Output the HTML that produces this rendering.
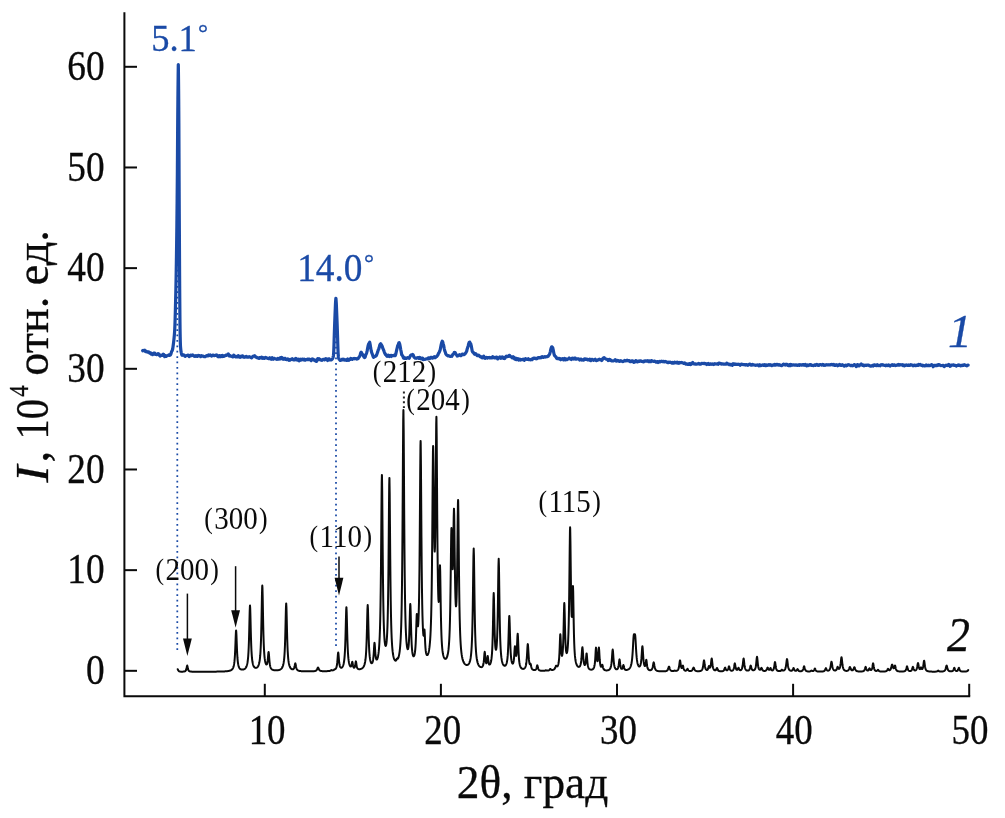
<!DOCTYPE html>
<html lang="ru"><head><meta charset="utf-8"><title>XRD</title>
<style>html,body{margin:0;padding:0;background:#fff;}body{width:1005px;height:818px;overflow:hidden;font-family:"Liberation Serif",serif;}svg{display:block;will-change:transform;}</style></head>
<body>
<svg width="1005" height="818" viewBox="0 0 1005 818">
<rect width="1005" height="818" fill="#ffffff"/>
<g stroke="#0a0a0a" stroke-width="2" fill="none" stroke-linecap="butt">
<path d="M124.4,12.3 V696.2 H970.2"/>
<path d="M124.4,670.82 h12.6"/>
<path d="M124.4,570.15 h12.6"/>
<path d="M124.4,469.48 h12.6"/>
<path d="M124.4,368.81 h12.6"/>
<path d="M124.4,268.14 h12.6"/>
<path d="M124.4,167.47 h12.6"/>
<path d="M124.4,66.80 h12.6"/>
<path d="M264.80,696.2 v-12.4"/>
<path d="M440.90,696.2 v-12.4"/>
<path d="M617.00,696.2 v-12.4"/>
<path d="M793.10,696.2 v-12.4"/>
<path d="M969.20,696.2 v-12.4"/>
</g>
<g stroke="#1a4aa6" stroke-width="1.75" stroke-dasharray="1.75 3.66" fill="none">
<path d="M177.3,258.83 V650.3"/>
<path d="M336.0,325.16 V646.3"/>
</g>
<path d="M403.9,391.5 V408" stroke="#222" stroke-width="2.0" stroke-dasharray="2 2.9" fill="none"/>
<path d="M177.70,669.18 177.95,669.81 178.20,670.28 178.45,670.64 178.70,670.92 178.95,671.12 179.20,671.27 179.45,671.39 179.70,671.48 179.95,671.54 180.20,671.59 180.45,671.62 180.70,671.65 180.95,671.66 181.20,671.67 181.45,671.68 181.70,671.68 181.95,671.67 182.20,671.67 182.45,671.66 182.70,671.65 182.95,671.63 183.20,671.61 183.45,671.59 183.70,671.56 183.95,671.52 184.20,671.48 184.45,671.42 184.70,671.34 184.95,671.24 185.20,671.11 185.45,670.93 185.70,670.67 185.95,670.29 186.20,669.72 186.45,668.86 186.70,667.62 186.95,666.21 187.20,665.50 187.45,666.21 187.70,667.62 187.95,668.86 188.20,669.72 188.45,670.29 188.70,670.66 188.95,670.92 189.20,671.10 189.45,671.23 189.70,671.33 189.95,671.41 190.20,671.46 190.45,671.51 190.70,671.55 190.95,671.58 191.20,671.60 191.45,671.62 191.70,671.64 191.95,671.65 192.20,671.67 192.45,671.68 192.70,671.68 192.95,671.69 193.20,671.70 193.45,671.71 193.70,671.71 193.95,671.71 194.20,671.72 194.45,671.72 194.70,671.73 194.95,671.73 195.20,671.73 195.45,671.73 195.70,671.73 195.95,671.74 196.20,671.74 196.45,671.74 196.70,671.74 196.95,671.74 197.20,671.74 197.45,671.74 197.70,671.74 197.95,671.74 198.20,671.74 198.45,671.74 198.70,671.74 198.95,671.74 199.20,671.74 199.45,671.74 199.70,671.74 199.95,671.74 200.20,671.74 200.45,671.74 200.70,671.74 200.95,671.74 201.20,671.74 201.45,671.74 201.70,671.74 201.95,671.74 202.20,671.74 202.45,671.74 202.70,671.74 202.95,671.74 203.20,671.74 203.45,671.73 203.70,671.73 203.95,671.73 204.20,671.73 204.45,671.73 204.70,671.73 204.95,671.73 205.20,671.73 205.45,671.73 205.70,671.73 205.95,671.72 206.20,671.72 206.45,671.72 206.70,671.72 206.95,671.72 207.20,671.72 207.45,671.72 207.70,671.71 207.95,671.71 208.20,671.71 208.45,671.71 208.70,671.71 208.95,671.71 209.20,671.70 209.45,671.70 209.70,671.70 209.95,671.70 210.20,671.70 210.45,671.70 210.70,671.69 210.95,671.69 211.20,671.69 211.45,671.69 211.70,671.68 211.95,671.68 212.20,671.68 212.45,671.68 212.70,671.68 212.95,671.67 213.20,671.67 213.45,671.67 213.70,671.66 213.95,671.66 214.20,671.66 214.45,671.66 214.70,671.65 214.95,671.65 215.20,671.65 215.45,671.64 215.70,671.64 215.95,671.64 216.20,671.63 216.45,671.63 216.70,671.62 216.95,671.62 217.20,671.62 217.45,671.61 217.70,671.61 217.95,671.60 218.20,671.60 218.45,671.59 218.70,671.59 218.95,671.58 219.20,671.58 219.45,671.57 219.70,671.57 219.95,671.56 220.20,671.55 220.45,671.55 220.70,671.54 220.95,671.53 221.20,671.53 221.45,671.52 221.70,671.51 221.95,671.50 222.20,671.49 222.45,671.48 222.70,671.47 222.95,671.46 223.20,671.45 223.45,671.44 223.70,671.43 223.95,671.42 224.20,671.40 224.45,671.39 224.70,671.38 224.95,671.36 225.20,671.34 225.45,671.33 225.70,671.31 225.95,671.29 226.20,671.27 226.45,671.25 226.70,671.22 226.95,671.20 227.20,671.17 227.45,671.14 227.70,671.11 227.95,671.07 228.20,671.03 228.45,670.99 228.70,670.94 228.95,670.90 229.20,670.84 229.45,670.78 229.70,670.71 229.95,670.64 230.20,670.55 230.45,670.46 230.70,670.35 230.95,670.23 231.20,670.09 231.45,669.93 231.70,669.75 231.95,669.53 232.20,669.28 232.45,668.97 232.70,668.61 232.95,668.16 233.20,667.61 233.45,666.92 233.70,666.05 233.95,664.92 234.20,663.44 234.45,661.46 234.70,658.77 234.95,655.09 235.20,650.12 235.45,643.76 235.70,636.74 235.95,631.43 236.10,630.40 236.20,630.86 236.45,635.40 236.70,642.29 236.95,648.85 237.20,654.08 237.45,657.96 237.70,660.80 237.95,662.87 238.20,664.41 238.45,665.56 238.70,666.45 238.95,667.13 239.20,667.67 239.45,668.10 239.70,668.44 239.95,668.71 240.20,668.93 240.45,669.11 240.70,669.25 240.95,669.37 241.20,669.46 241.45,669.52 241.70,669.57 241.95,669.60 242.20,669.61 242.45,669.61 242.70,669.59 242.95,669.56 243.20,669.52 243.45,669.46 243.70,669.38 243.95,669.28 244.20,669.17 244.45,669.03 244.70,668.87 244.95,668.67 245.20,668.45 245.45,668.18 245.70,667.86 245.95,667.49 246.20,667.04 246.45,666.49 246.70,665.83 246.95,665.02 247.20,664.01 247.45,662.74 247.70,661.11 247.95,659.00 248.20,656.22 248.45,652.51 248.70,647.49 248.95,640.73 249.20,631.90 249.45,621.34 249.70,611.18 249.95,605.67 250.00,605.50 250.20,608.13 250.45,616.97 250.70,627.72 250.95,637.32 251.20,644.85 251.45,650.48 251.70,654.63 251.95,657.71 252.20,660.02 252.45,661.78 252.70,663.14 252.95,664.20 253.20,665.03 253.45,665.70 253.70,666.23 253.95,666.66 254.20,667.00 254.45,667.27 254.70,667.48 254.95,667.64 255.20,667.76 255.45,667.83 255.70,667.87 255.95,667.88 256.20,667.85 256.45,667.78 256.70,667.68 256.95,667.53 257.20,667.35 257.45,667.12 257.70,666.83 257.95,666.47 258.20,666.04 258.45,665.51 258.70,664.86 258.95,664.06 259.20,663.08 259.45,661.85 259.70,660.29 259.95,658.30 260.20,655.72 260.45,652.31 260.70,647.76 260.95,641.62 261.20,633.33 261.45,622.39 261.70,608.97 261.95,595.26 262.20,586.39 262.30,585.50 262.45,587.47 262.70,597.78 262.95,611.73 263.20,624.72 263.45,635.09 263.70,642.87 263.95,648.62 264.20,652.86 264.45,656.03 264.70,658.41 264.95,660.23 265.20,661.61 265.45,662.66 265.70,663.45 265.95,664.00 266.20,664.35 266.45,664.49 266.70,664.41 266.95,664.06 267.20,663.36 267.45,662.19 267.70,660.39 267.95,657.86 268.20,654.83 268.45,652.42 268.60,652.00 268.70,652.29 268.95,654.67 269.20,658.02 269.45,661.03 269.70,663.32 269.95,664.98 270.20,666.18 270.45,667.05 270.70,667.71 270.95,668.21 271.20,668.60 271.45,668.90 271.70,669.15 271.95,669.36 272.20,669.53 272.45,669.67 272.70,669.79 272.95,669.89 273.20,669.98 273.45,670.05 273.70,670.11 273.95,670.17 274.20,670.21 274.45,670.25 274.70,670.28 274.95,670.31 275.20,670.33 275.45,670.34 275.70,670.35 275.95,670.36 276.20,670.36 276.45,670.36 276.70,670.35 276.95,670.33 277.20,670.32 277.45,670.29 277.70,670.26 277.95,670.23 278.20,670.19 278.45,670.14 278.70,670.09 278.95,670.03 279.20,669.95 279.45,669.87 279.70,669.78 279.95,669.67 280.20,669.55 280.45,669.41 280.70,669.25 280.95,669.06 281.20,668.84 281.45,668.59 281.70,668.30 281.95,667.96 282.20,667.55 282.45,667.07 282.70,666.48 282.95,665.77 283.20,664.89 283.45,663.80 283.70,662.42 283.95,660.65 284.20,658.35 284.45,655.30 284.70,651.21 284.95,645.69 285.20,638.27 285.45,628.69 285.70,617.56 285.95,607.60 286.20,603.40 286.45,607.60 286.70,617.56 286.95,628.69 287.20,638.27 287.45,645.69 287.70,651.22 287.95,655.30 288.20,658.35 288.45,660.65 288.70,662.42 288.95,663.80 289.20,664.89 289.45,665.76 289.70,666.47 289.95,667.05 290.20,667.52 290.45,667.92 290.70,668.25 290.95,668.52 291.20,668.75 291.45,668.93 291.70,669.08 291.95,669.20 292.20,669.28 292.45,669.33 292.70,669.33 292.95,669.30 293.20,669.21 293.45,669.04 293.70,668.78 293.95,668.38 294.20,667.77 294.45,666.90 294.70,665.72 294.95,664.39 295.20,663.48 295.30,663.40 295.45,663.64 295.70,664.78 295.95,666.20 296.20,667.41 296.45,668.32 296.70,668.97 296.95,669.44 297.20,669.79 297.45,670.05 297.70,670.25 297.95,670.41 298.20,670.53 298.45,670.63 298.70,670.72 298.95,670.79 299.20,670.85 299.45,670.90 299.70,670.95 299.95,670.99 300.20,671.02 300.45,671.05 300.70,671.08 300.95,671.11 301.20,671.13 301.45,671.15 301.70,671.17 301.95,671.19 302.20,671.20 302.45,671.22 302.70,671.23 302.95,671.24 303.20,671.25 303.45,671.26 303.70,671.27 303.95,671.28 304.20,671.29 304.45,671.30 304.70,671.31 304.95,671.31 305.20,671.32 305.45,671.32 305.70,671.33 305.95,671.33 306.20,671.34 306.45,671.34 306.70,671.34 306.95,671.35 307.20,671.35 307.45,671.35 307.70,671.35 307.95,671.36 308.20,671.36 308.45,671.36 308.70,671.36 308.95,671.36 309.20,671.36 309.45,671.36 309.70,671.36 309.95,671.36 310.20,671.35 310.45,671.35 310.70,671.35 310.95,671.34 311.20,671.34 311.45,671.33 311.70,671.33 311.95,671.32 312.20,671.31 312.45,671.30 312.70,671.29 312.95,671.28 313.20,671.26 313.45,671.24 313.70,671.22 313.95,671.20 314.20,671.17 314.45,671.13 314.70,671.09 314.95,671.04 315.20,670.97 315.45,670.89 315.70,670.79 315.95,670.65 316.20,670.48 316.45,670.25 316.70,669.94 316.95,669.53 317.20,669.00 317.45,668.39 317.70,667.82 317.95,667.51 318.00,667.50 318.20,667.64 318.45,668.14 318.70,668.75 318.95,669.32 319.20,669.77 319.45,670.11 319.70,670.36 319.95,670.55 320.20,670.70 320.45,670.81 320.70,670.89 320.95,670.96 321.20,671.01 321.45,671.05 321.70,671.09 321.95,671.11 322.20,671.13 322.45,671.15 322.70,671.17 322.95,671.18 323.20,671.18 323.45,671.19 323.70,671.20 323.95,671.20 324.20,671.20 324.45,671.20 324.70,671.20 324.95,671.20 325.20,671.20 325.45,671.19 325.70,671.19 325.95,671.18 326.20,671.17 326.45,671.17 326.70,671.16 326.95,671.15 327.20,671.14 327.45,671.12 327.70,671.11 327.95,671.09 328.20,671.08 328.45,671.06 328.70,671.04 328.95,671.01 329.20,670.98 329.45,670.94 329.70,670.90 329.95,670.84 330.20,670.76 330.45,670.66 330.70,670.52 330.95,670.34 331.20,670.17 331.40,670.10 331.45,670.09 331.70,670.15 331.95,670.25 332.20,670.34 332.45,670.38 332.70,670.38 332.95,670.34 333.20,670.27 333.45,670.17 333.70,670.03 333.95,669.84 334.20,669.62 334.45,669.43 334.50,669.40 334.70,669.32 334.95,669.27 335.20,669.18 335.45,669.02 335.70,668.76 335.95,668.39 336.20,667.87 336.45,667.17 336.70,666.21 336.95,664.85 337.20,662.95 337.45,660.34 337.70,657.06 337.95,653.86 338.20,652.40 338.45,653.75 338.70,656.85 338.95,660.02 339.20,662.51 339.45,664.30 339.70,665.53 339.95,666.38 340.20,666.95 340.45,667.33 340.70,667.57 340.95,667.70 341.20,667.74 341.45,667.71 341.70,667.60 341.95,667.43 342.20,667.19 342.45,666.87 342.70,666.46 342.95,665.94 343.20,665.28 343.45,664.46 343.70,663.42 343.95,662.08 344.20,660.36 344.45,658.09 344.70,655.08 344.95,651.03 345.20,645.54 345.45,638.21 345.70,628.86 345.95,618.38 346.20,609.77 346.40,607.20 346.45,607.36 346.70,612.69 346.95,622.54 347.20,632.78 347.45,641.33 347.70,647.86 347.95,652.71 348.20,656.29 348.45,658.95 348.70,660.96 348.95,662.48 349.20,663.66 349.45,664.57 349.70,665.27 349.95,665.80 350.20,666.18 350.45,666.43 350.70,666.53 350.95,666.46 351.20,666.16 351.45,665.55 351.70,664.50 351.95,663.06 352.20,661.90 352.30,661.80 352.45,662.15 352.70,663.63 352.95,665.19 353.20,666.33 353.45,667.05 353.70,667.47 353.95,667.68 354.20,667.70 354.45,667.54 354.70,667.16 354.95,666.47 355.20,665.34 355.45,663.71 355.70,661.98 355.90,661.40 355.95,661.45 356.20,662.71 356.45,664.60 356.70,666.14 356.95,667.19 357.20,667.88 357.45,668.33 357.70,668.64 357.95,668.85 358.20,668.99 358.45,669.09 358.70,669.15 358.95,669.19 359.20,669.20 359.45,669.20 359.70,669.19 359.95,669.16 360.20,669.11 360.45,669.06 360.70,668.99 360.95,668.91 361.20,668.81 361.45,668.70 361.70,668.58 361.95,668.43 362.20,668.26 362.45,668.07 362.70,667.85 362.95,667.59 363.20,667.29 363.45,666.94 363.70,666.53 363.95,666.05 364.20,665.46 364.45,664.76 364.70,663.89 364.95,662.82 365.20,661.48 365.45,659.76 365.70,657.54 365.95,654.61 366.20,650.68 366.45,645.40 366.70,638.31 366.95,629.16 367.20,618.56 367.45,609.04 367.70,605.00 367.95,608.91 368.20,618.29 368.45,628.76 368.70,637.77 368.95,644.71 369.20,649.85 369.45,653.61 369.70,656.38 369.95,658.43 370.20,659.95 370.45,661.08 370.70,661.92 370.95,662.52 371.20,662.93 371.45,663.16 371.70,663.24 371.95,663.16 372.20,662.91 372.45,662.46 372.70,661.74 372.95,660.68 373.20,659.13 373.45,656.91 373.70,653.79 373.95,649.73 374.20,645.46 374.45,642.90 374.50,642.80 374.70,643.84 374.95,647.40 375.20,651.37 375.45,654.55 375.70,656.77 375.95,658.20 376.20,659.06 376.45,659.49 376.70,659.61 376.95,659.47 377.20,659.10 377.45,658.51 377.70,657.71 377.95,656.66 378.20,655.34 378.45,653.69 378.70,651.64 378.95,649.07 379.20,645.84 379.45,641.73 379.70,636.43 379.95,629.50 380.20,620.31 380.45,607.97 380.70,591.30 380.95,569.04 381.20,540.69 381.45,508.94 381.70,482.80 381.90,474.90 381.95,475.36 382.20,491.26 382.45,520.79 382.70,551.45 382.95,577.01 383.20,596.47 383.45,610.78 383.70,621.24 383.95,628.88 384.20,634.50 384.45,638.61 384.70,641.59 384.95,643.69 385.20,645.06 385.45,645.80 385.70,645.98 385.95,645.60 386.20,644.64 386.45,643.03 386.70,640.64 386.95,637.30 387.20,632.71 387.45,626.46 387.70,617.94 387.95,606.29 388.20,590.36 388.45,568.90 388.70,541.47 388.95,510.67 389.20,485.37 389.40,477.89 389.45,478.42 389.70,494.37 389.95,523.70 390.20,554.15 390.45,579.61 390.70,599.10 390.95,613.58 391.20,624.30 391.45,632.32 391.70,638.39 391.95,643.06 392.20,646.71 392.45,649.59 392.70,651.90 392.95,653.76 393.20,655.27 393.45,656.51 393.70,657.52 393.95,658.35 394.20,659.03 394.45,659.57 394.70,659.99 394.95,660.31 395.20,660.53 395.45,660.65 395.70,660.66 395.95,660.54 396.20,660.27 396.45,659.80 396.70,659.17 396.95,658.65 397.00,658.59 397.20,658.53 397.45,658.66 397.70,658.68 397.95,658.48 398.20,658.06 398.45,657.44 398.70,656.63 398.95,655.62 399.20,654.37 399.45,652.85 399.70,651.01 399.95,648.75 400.20,645.98 400.45,642.54 400.70,638.23 400.95,632.75 401.20,625.70 401.45,616.47 401.70,604.23 401.95,587.77 402.20,565.52 402.45,535.77 402.70,497.88 402.95,455.44 403.20,420.53 403.40,410.08 403.45,410.74 403.70,432.28 403.95,472.11 404.20,513.49 404.45,548.07 404.70,574.48 404.95,594.03 405.20,608.45 405.45,619.16 405.70,627.19 405.95,633.29 406.20,637.95 406.45,641.53 406.70,644.25 406.95,646.29 407.20,647.75 407.45,648.69 407.70,649.14 407.95,649.07 408.20,648.42 408.45,647.07 408.70,644.83 408.95,641.40 409.20,636.37 409.45,629.35 409.70,620.36 409.95,610.84 410.20,604.60 410.30,604.03 410.45,605.60 410.70,613.30 410.95,623.37 411.20,632.47 411.45,639.55 411.70,644.74 411.95,648.48 412.20,651.16 412.45,653.08 412.70,654.43 412.95,655.36 413.20,655.94 413.45,656.24 413.70,656.29 413.95,656.08 414.20,655.62 414.45,654.87 414.70,653.77 414.95,652.22 415.20,650.08 415.45,647.11 415.70,642.99 415.95,637.32 416.20,629.89 416.45,621.52 416.70,615.12 416.80,613.97 416.95,614.09 417.20,617.86 417.45,622.60 417.70,625.67 417.95,626.32 418.20,624.58 418.30,623.23 418.45,620.47 418.70,613.74 418.95,603.74 419.20,589.50 419.45,569.70 419.70,542.96 419.95,509.23 420.20,472.88 420.45,445.99 420.60,440.90 420.70,443.27 420.95,466.55 421.20,502.49 421.45,537.60 421.70,566.17 421.95,587.70 422.20,603.50 422.45,615.01 422.70,623.34 422.95,629.26 423.20,633.23 423.45,635.43 423.70,635.82 423.95,634.26 424.20,631.27 424.45,629.59 424.50,629.76 424.70,632.46 424.95,638.33 425.20,643.78 425.45,647.74 425.70,650.43 425.95,652.24 426.20,653.46 426.45,654.27 426.70,654.78 426.95,655.05 427.20,655.12 427.45,655.02 427.70,654.76 427.95,654.33 428.20,653.73 428.45,652.95 428.70,651.96 428.95,650.74 429.20,649.24 429.45,647.40 429.70,645.15 429.95,642.42 430.00,641.81 430.20,639.09 430.45,634.96 430.70,629.75 430.95,623.08 431.20,614.43 431.45,603.07 431.70,588.02 431.95,568.07 432.20,542.12 432.45,510.36 432.70,476.84 432.95,451.76 433.10,445.94 433.20,446.81 433.45,463.29 433.70,490.36 433.95,516.47 434.20,536.00 434.45,547.65 434.70,551.60 434.95,547.98 435.20,536.40 435.45,516.09 435.70,487.02 435.95,452.74 436.20,424.33 436.40,416.71 436.45,417.66 436.70,438.40 436.95,474.98 437.20,512.45 437.45,543.33 437.70,566.36 437.95,582.58 438.20,593.33 438.40,598.69 438.45,599.62 438.70,601.89 438.95,600.08 439.20,593.82 439.45,583.31 439.70,571.35 439.95,565.19 440.00,565.38 440.20,571.37 440.45,586.83 440.70,603.65 440.95,617.51 441.20,627.84 441.45,635.34 441.70,640.83 441.95,644.92 442.20,648.02 442.45,650.42 442.70,652.30 442.95,653.80 443.20,655.00 443.45,655.98 443.70,656.76 443.95,657.39 444.20,657.89 444.45,658.27 444.70,658.56 444.95,658.75 445.20,658.86 445.45,658.88 445.70,658.83 445.95,658.68 446.20,658.45 446.45,658.13 446.70,657.70 446.95,657.15 447.20,656.47 447.45,655.63 447.70,654.60 447.95,653.34 448.20,651.80 448.45,649.89 448.70,647.51 448.95,644.53 449.20,640.74 449.45,635.84 449.70,629.44 449.95,620.94 450.20,609.59 450.45,594.57 450.70,575.52 450.95,554.01 451.20,535.53 451.40,528.38 451.45,528.04 451.70,534.21 451.95,547.74 452.20,560.52 452.45,568.13 452.70,569.22 452.95,563.56 453.20,551.42 453.45,534.41 453.70,517.36 453.95,508.71 454.00,508.69 454.20,514.74 454.45,532.69 454.70,554.27 454.95,573.37 455.20,587.88 455.45,597.81 455.70,603.79 455.95,606.33 456.20,605.67 456.45,601.72 456.70,594.06 456.95,581.97 457.20,564.78 457.45,542.81 457.70,519.38 457.95,502.62 458.10,499.89 458.20,501.85 458.45,518.26 458.70,543.49 458.95,568.69 459.20,589.73 459.45,606.03 459.70,618.35 459.95,627.64 460.20,634.71 460.45,640.17 460.70,644.45 460.95,647.86 461.20,650.61 461.45,652.85 461.70,654.71 461.95,656.26 462.20,657.57 462.45,658.68 462.70,659.63 462.95,660.44 463.20,661.15 463.45,661.76 463.70,662.30 463.95,662.76 464.20,663.17 464.45,663.52 464.70,663.83 464.95,664.09 465.20,664.32 465.45,664.51 465.70,664.66 465.95,664.79 466.20,664.89 466.45,664.95 466.70,664.98 466.95,664.99 467.20,664.96 467.45,664.90 467.70,664.80 467.95,664.66 468.20,664.48 468.45,664.25 468.70,663.95 468.95,663.60 469.20,663.16 469.45,662.62 469.70,661.97 469.95,661.17 470.20,660.19 470.45,658.98 470.70,657.47 470.95,655.58 471.20,653.18 471.45,650.07 471.70,646.02 471.95,640.63 472.20,633.40 472.45,623.60 472.70,610.43 472.95,593.41 473.20,573.65 473.45,555.94 473.70,548.50 473.95,555.99 474.20,573.76 474.45,593.59 474.70,610.67 474.95,623.90 475.20,633.76 475.45,641.05 475.70,646.50 475.95,650.62 476.20,653.79 476.45,656.26 476.70,658.22 476.95,659.79 477.20,661.07 477.45,662.12 477.70,662.99 477.95,663.72 478.20,664.33 478.45,664.85 478.70,665.30 478.95,665.67 479.20,665.99 479.45,666.26 479.70,666.49 479.95,666.69 480.20,666.84 480.45,666.97 480.70,667.06 480.95,667.12 481.20,667.14 481.45,667.13 481.70,667.08 481.95,666.97 482.20,666.81 482.45,666.56 482.70,666.19 482.95,665.67 483.20,664.91 483.45,663.81 483.70,662.20 483.95,659.86 484.20,656.71 484.45,653.41 484.70,651.80 484.95,653.22 485.20,656.32 485.45,659.23 485.70,661.29 485.95,662.54 486.20,663.15 486.45,663.20 486.70,662.68 486.95,661.50 487.20,659.53 487.45,657.18 487.70,656.00 487.95,657.25 488.20,659.69 488.45,661.77 488.70,663.15 488.95,663.97 489.20,664.40 489.45,664.57 489.70,664.53 489.95,664.32 490.20,663.96 490.45,663.43 490.70,662.71 490.95,661.76 491.20,660.53 491.45,658.90 491.70,656.75 491.95,653.84 492.20,649.85 492.45,644.29 492.70,636.49 492.95,625.79 493.20,612.34 493.45,599.17 493.70,593.10 493.95,598.50 494.20,610.97 494.45,623.69 494.70,633.60 494.95,640.51 495.20,645.06 495.45,647.88 495.70,649.38 495.95,649.82 496.20,649.32 496.45,647.85 496.70,645.29 496.95,641.37 497.20,635.65 497.45,627.49 497.70,616.09 497.95,600.85 498.20,582.60 498.45,565.80 498.70,558.70 498.95,566.18 499.20,583.39 499.45,602.06 499.70,617.75 499.95,629.66 500.20,638.41 500.45,644.81 500.70,649.56 500.95,653.12 501.20,655.85 501.45,657.96 501.70,659.62 501.95,660.95 502.20,662.02 502.45,662.88 502.70,663.58 502.95,664.15 503.20,664.61 503.45,664.99 503.70,665.28 503.95,665.50 504.20,665.65 504.45,665.75 504.70,665.78 504.95,665.75 505.20,665.66 505.45,665.49 505.70,665.23 505.95,664.88 506.20,664.40 506.45,663.76 506.70,662.92 506.95,661.82 507.20,660.34 507.45,658.37 507.70,655.68 507.95,651.99 508.20,646.92 508.45,640.08 508.70,631.49 508.95,622.47 509.20,616.51 509.30,615.90 509.45,617.23 509.70,624.15 509.95,633.28 510.20,641.54 510.45,647.98 510.70,652.71 510.95,656.12 511.20,658.59 511.45,660.38 511.70,661.66 511.95,662.57 512.20,663.18 512.45,663.53 512.70,663.64 512.95,663.50 513.20,663.06 513.45,662.25 513.70,660.92 513.95,658.85 514.20,655.79 514.45,651.75 514.70,647.78 514.90,646.30 514.95,646.31 515.20,648.35 515.45,651.77 515.70,654.49 515.95,655.87 516.20,655.92 516.45,654.66 516.70,651.97 516.95,647.65 517.20,641.87 517.45,636.13 517.70,633.70 517.95,636.69 518.20,643.03 518.45,649.49 518.70,654.63 518.95,658.38 519.20,661.05 519.45,662.98 519.70,664.39 519.95,665.44 520.20,666.24 520.45,666.85 520.70,667.34 520.95,667.72 521.20,668.02 521.45,668.27 521.70,668.46 521.95,668.61 522.20,668.72 522.45,668.81 522.70,668.86 522.95,668.89 523.20,668.89 523.45,668.86 523.70,668.80 523.95,668.70 524.20,668.56 524.45,668.38 524.70,668.14 524.95,667.81 525.20,667.39 525.45,666.84 525.70,666.11 525.95,665.13 526.20,663.80 526.45,661.97 526.70,659.46 526.95,656.08 527.20,651.83 527.45,647.37 527.70,644.41 527.80,644.10 527.95,644.74 528.20,648.12 528.45,652.58 528.70,656.59 528.95,659.66 529.20,661.82 529.45,663.25 529.70,664.05 529.95,664.30 530.20,664.06 530.45,663.72 530.60,663.80 530.70,664.05 530.95,665.21 531.20,666.50 531.45,667.50 531.70,668.21 531.95,668.71 532.20,669.08 532.45,669.35 532.70,669.55 532.95,669.71 533.20,669.83 533.45,669.92 533.70,669.99 533.95,670.04 534.20,670.07 534.45,670.08 534.70,670.06 534.95,670.02 535.20,669.94 535.45,669.82 535.70,669.62 535.95,669.33 536.20,668.89 536.45,668.24 536.70,667.31 536.95,666.20 537.20,665.38 537.30,665.30 537.45,665.51 537.70,666.48 537.95,667.61 538.20,668.52 538.45,669.16 538.70,669.60 538.95,669.91 539.20,670.13 539.45,670.30 539.70,670.42 539.95,670.51 540.20,670.58 540.45,670.64 540.70,670.68 540.95,670.72 541.20,670.75 541.45,670.77 541.70,670.79 541.95,670.81 542.20,670.82 542.45,670.83 542.70,670.83 542.95,670.83 543.20,670.83 543.45,670.82 543.70,670.81 543.95,670.80 544.20,670.77 544.45,670.74 544.70,670.69 544.95,670.62 545.20,670.52 545.45,670.40 545.70,670.31 545.80,670.30 545.95,670.31 546.20,670.39 546.45,670.48 546.70,670.55 546.95,670.59 547.20,670.61 547.45,670.61 547.70,670.59 547.95,670.57 548.20,670.52 548.45,670.47 548.70,670.39 548.95,670.27 549.20,670.12 549.45,669.89 549.70,669.58 549.95,669.22 550.20,668.94 550.30,668.90 550.45,668.94 550.70,669.20 550.95,669.50 551.20,669.72 551.45,669.87 551.70,669.95 551.95,669.99 552.20,669.99 552.45,669.97 552.70,669.93 552.95,669.88 553.20,669.80 553.45,669.70 553.70,669.58 553.95,669.43 554.20,669.25 554.45,669.01 554.70,668.71 554.95,668.32 555.20,667.81 555.45,667.18 555.70,666.48 555.95,665.89 556.10,665.70 556.20,665.66 556.45,665.81 556.70,666.10 556.95,666.33 557.20,666.39 557.45,666.27 557.70,665.97 557.95,665.47 558.20,664.73 558.45,663.70 558.70,662.26 558.95,660.22 559.20,657.29 559.45,653.06 559.70,647.19 559.95,640.20 560.20,634.88 560.30,634.20 560.45,635.13 560.70,640.33 560.95,646.40 561.20,651.02 561.45,653.92 561.70,655.44 561.95,655.88 562.20,655.42 562.45,654.05 562.70,651.66 562.95,647.95 563.20,642.45 563.45,634.58 563.70,624.07 563.95,612.29 564.20,604.01 564.30,603.10 564.45,604.85 564.70,614.00 564.95,625.42 565.20,635.07 565.45,642.07 565.70,646.82 565.95,649.92 566.20,651.81 566.45,652.81 566.70,653.08 566.95,652.71 567.20,651.73 567.45,650.08 567.70,647.65 567.95,644.23 568.20,639.51 568.45,633.01 568.70,624.05 568.95,611.67 569.20,594.87 569.45,573.28 569.70,549.40 569.95,531.11 570.10,527.30 570.20,528.58 570.45,543.06 570.70,565.12 570.95,585.68 571.20,601.14 571.45,611.20 571.70,616.38 571.95,616.99 572.20,612.87 572.45,603.98 572.70,592.56 572.95,586.07 573.00,586.20 573.20,592.11 573.45,607.10 573.70,622.39 573.95,634.24 574.20,642.66 574.45,648.57 574.70,652.80 574.95,655.90 575.20,658.23 575.45,660.02 575.70,661.42 575.95,662.54 576.20,663.44 576.45,664.18 576.70,664.79 576.95,665.30 577.20,665.71 577.45,666.06 577.70,666.33 577.95,666.55 578.20,666.72 578.45,666.83 578.70,666.89 578.95,666.89 579.20,666.84 579.45,666.70 579.70,666.49 579.95,666.16 580.20,665.69 580.45,665.02 580.70,664.09 580.95,662.79 581.20,660.97 581.45,658.46 581.70,655.17 581.95,651.38 582.20,648.17 582.40,647.20 582.45,647.26 582.70,649.27 582.95,652.89 583.20,656.53 583.45,659.47 583.70,661.62 583.95,663.12 584.20,664.11 584.45,664.71 584.70,664.97 584.95,664.90 585.20,664.45 585.45,663.53 585.70,661.97 585.95,659.59 586.20,656.52 586.45,653.89 586.60,653.40 586.70,653.71 586.95,656.28 587.20,659.67 587.45,662.53 587.70,664.58 587.95,666.00 588.20,666.99 588.45,667.70 588.70,668.21 588.95,668.60 589.20,668.89 589.45,669.11 589.70,669.28 589.95,669.41 590.20,669.51 590.45,669.58 590.70,669.63 590.95,669.66 591.20,669.67 591.45,669.66 591.70,669.63 591.95,669.57 592.20,669.50 592.45,669.39 592.70,669.26 592.95,669.08 593.20,668.84 593.45,668.53 593.70,668.13 593.95,667.59 594.20,666.86 594.45,665.85 594.70,664.42 594.95,662.35 595.20,659.36 595.45,655.28 595.70,650.67 595.95,647.73 596.00,647.60 596.20,648.75 596.45,652.55 596.70,656.44 596.95,659.18 597.20,660.71 597.45,661.20 597.70,660.71 597.95,659.18 598.20,656.44 598.45,652.56 598.70,648.76 598.90,647.60 598.95,647.73 599.20,650.62 599.45,655.18 599.70,659.20 599.95,662.11 600.20,664.09 600.45,665.39 600.70,666.21 600.95,666.67 601.20,666.81 601.45,666.62 601.70,666.10 601.95,665.35 602.20,664.81 602.30,664.80 602.45,665.08 602.70,666.07 602.95,667.19 603.20,668.09 603.45,668.74 603.70,669.19 603.95,669.52 604.20,669.76 604.45,669.93 604.70,670.07 604.95,670.17 605.20,670.25 605.45,670.31 605.70,670.35 605.95,670.38 606.20,670.40 606.45,670.41 606.70,670.41 606.95,670.40 607.20,670.38 607.45,670.35 607.70,670.30 607.95,670.25 608.20,670.18 608.45,670.09 608.70,669.98 608.95,669.85 609.20,669.69 609.45,669.48 609.70,669.23 609.95,668.91 610.20,668.51 610.45,667.98 610.70,667.29 610.95,666.37 611.20,665.13 611.45,663.43 611.70,661.10 611.95,658.04 612.20,654.40 612.45,651.04 612.70,649.60 612.95,651.03 613.20,654.36 613.45,657.99 613.70,661.03 613.95,663.34 614.20,665.02 614.45,666.24 614.70,667.13 614.95,667.79 615.20,668.28 615.45,668.64 615.70,668.91 615.95,669.11 616.20,669.24 616.45,669.31 616.70,669.33 616.95,669.29 617.20,669.18 617.45,669.00 617.70,668.71 617.95,668.26 618.20,667.60 618.45,666.61 618.70,665.15 618.95,663.13 619.20,660.85 619.45,659.45 619.50,659.40 619.70,660.09 619.95,662.20 620.20,664.40 620.45,666.07 620.70,667.22 620.95,667.97 621.20,668.46 621.45,668.74 621.70,668.87 621.95,668.84 622.20,668.66 622.45,668.25 622.70,667.54 622.95,666.49 623.20,665.37 623.40,665.00 623.45,665.03 623.70,665.87 623.95,667.11 624.20,668.11 624.45,668.79 624.70,669.24 624.95,669.52 625.20,669.71 625.45,669.83 625.70,669.90 625.95,669.94 626.20,669.96 626.45,669.95 626.70,669.93 626.95,669.89 627.20,669.83 627.45,669.76 627.70,669.67 627.95,669.57 628.20,669.45 628.45,669.31 628.70,669.14 628.95,668.95 629.20,668.73 629.45,668.47 629.70,668.17 629.95,667.81 630.20,667.39 630.45,666.88 630.70,666.27 630.95,665.53 631.20,664.63 631.45,663.50 631.70,662.10 631.95,660.32 632.20,658.06 632.45,655.18 632.70,651.60 632.95,647.32 633.20,642.65 633.45,638.35 633.70,635.40 633.95,634.23 634.20,634.23 634.45,634.39 634.70,634.24 634.95,634.24 635.20,635.40 635.45,638.31 635.70,642.56 635.95,647.17 636.20,651.38 636.45,654.90 636.70,657.70 636.95,659.89 637.20,661.59 637.45,662.92 637.70,663.95 637.95,664.74 638.20,665.36 638.45,665.82 638.70,666.16 638.95,666.38 639.20,666.48 639.45,666.48 639.70,666.36 639.95,666.10 640.20,665.67 640.45,665.02 640.70,664.08 640.95,662.73 641.20,660.81 641.45,658.16 641.70,654.67 641.95,650.63 642.20,647.22 642.40,646.20 642.45,646.27 642.70,648.46 642.95,652.39 643.20,656.35 643.45,659.56 643.70,661.93 643.95,663.61 644.20,664.76 644.45,665.51 644.70,665.92 644.95,665.99 645.20,665.69 645.45,664.91 645.70,663.49 645.95,661.51 646.20,659.93 646.30,659.80 646.45,660.33 646.70,662.48 646.95,664.76 647.20,666.45 647.45,667.60 647.70,668.38 647.95,668.91 648.20,669.29 648.45,669.56 648.70,669.77 648.95,669.92 649.20,670.03 649.45,670.11 649.70,670.16 649.95,670.19 650.20,670.19 650.45,670.17 650.70,670.12 650.95,670.03 651.20,669.91 651.45,669.73 651.70,669.48 651.95,669.14 652.20,668.65 652.45,667.98 652.70,667.05 652.95,665.81 653.20,664.33 653.45,662.97 653.70,662.40 653.95,663.01 654.20,664.40 654.45,665.92 654.70,667.19 654.95,668.16 655.20,668.88 655.45,669.40 655.70,669.79 655.95,670.09 656.20,670.31 656.45,670.49 656.70,670.64 656.95,670.75 657.20,670.84 657.45,670.92 657.70,670.99 657.95,671.04 658.20,671.09 658.45,671.13 658.70,671.17 658.95,671.20 659.20,671.23 659.45,671.25 659.70,671.27 659.95,671.29 660.20,671.31 660.45,671.32 660.70,671.33 660.95,671.34 661.20,671.35 661.45,671.36 661.70,671.36 661.95,671.37 662.20,671.37 662.45,671.37 662.70,671.37 662.95,671.37 663.20,671.37 663.45,671.36 663.70,671.36 663.95,671.35 664.20,671.34 664.45,671.32 664.70,671.30 664.95,671.28 665.20,671.25 665.45,671.22 665.70,671.17 665.95,671.12 666.20,671.05 666.45,670.96 666.70,670.84 666.95,670.70 667.20,670.50 667.45,670.23 667.70,669.86 667.95,669.36 668.20,668.69 668.45,667.87 668.70,667.06 668.95,666.61 669.00,666.60 669.20,666.81 669.45,667.52 669.70,668.36 669.95,669.09 670.20,669.65 670.45,670.06 670.70,670.36 670.95,670.58 671.20,670.73 671.45,670.85 671.70,670.93 671.95,670.99 672.20,671.03 672.45,671.06 672.70,671.06 672.95,671.05 673.20,671.02 673.45,670.97 673.70,670.88 673.95,670.78 674.20,670.67 674.45,670.60 674.50,670.60 674.70,670.62 674.95,670.69 675.20,670.78 675.45,670.84 675.70,670.87 675.95,670.88 676.20,670.86 676.45,670.82 676.70,670.75 676.95,670.66 677.20,670.53 677.45,670.36 677.70,670.14 677.95,669.85 678.20,669.45 678.45,668.91 678.70,668.14 678.95,667.07 679.20,665.58 679.45,663.66 679.70,661.64 679.95,660.45 680.00,660.40 680.20,660.92 680.45,662.65 680.70,664.58 680.95,666.12 681.20,667.17 681.45,667.81 681.70,668.09 681.95,668.03 682.20,667.60 682.45,666.78 682.70,665.87 682.90,665.60 682.95,665.65 683.20,666.52 683.45,667.76 683.70,668.77 683.95,669.47 684.20,669.93 684.45,670.23 684.70,670.44 684.95,670.57 685.20,670.65 685.45,670.69 685.70,670.69 685.95,670.64 686.20,670.53 686.45,670.34 686.70,670.04 686.95,669.60 687.20,669.11 687.45,668.81 687.50,668.80 687.70,668.97 687.95,669.45 688.20,669.95 688.45,670.34 688.70,670.60 688.95,670.78 689.20,670.90 689.45,670.97 689.70,671.02 689.95,671.04 690.20,671.05 690.45,671.03 690.70,671.00 690.95,670.95 691.20,670.88 691.45,670.77 691.70,670.63 691.95,670.43 692.20,670.16 692.45,669.80 692.70,669.33 692.95,668.74 693.20,668.13 693.45,667.68 693.60,667.60 693.70,667.64 693.95,668.02 694.20,668.62 694.45,669.23 694.70,669.73 694.95,670.12 695.20,670.41 695.45,670.62 695.70,670.79 695.95,670.91 696.20,671.00 696.45,671.07 696.70,671.12 696.95,671.16 697.20,671.19 697.45,671.21 697.70,671.22 697.95,671.23 698.20,671.23 698.45,671.23 698.70,671.22 698.95,671.20 699.20,671.18 699.45,671.15 699.70,671.11 699.95,671.06 700.20,671.01 700.45,670.93 700.70,670.85 700.95,670.74 701.20,670.60 701.45,670.42 701.70,670.19 701.95,669.89 702.20,669.49 702.45,668.93 702.70,668.17 702.95,667.08 703.20,665.59 703.45,663.65 703.70,661.62 703.95,660.44 704.00,660.40 704.20,660.96 704.45,662.75 704.70,664.76 704.95,666.41 705.20,667.60 705.45,668.44 705.70,669.02 705.95,669.41 706.20,669.68 706.45,669.85 706.70,669.95 706.95,669.97 707.20,669.91 707.45,669.77 707.70,669.52 707.95,669.10 708.20,668.45 708.45,667.52 708.70,666.52 708.90,666.10 708.95,666.09 709.20,666.53 709.45,667.22 709.70,667.65 709.95,667.70 710.20,667.39 710.45,666.69 710.70,665.54 710.95,663.83 711.20,661.62 711.45,659.45 711.70,658.50 711.95,659.54 712.20,661.81 712.45,664.12 712.70,665.96 712.95,667.30 713.20,668.24 713.45,668.91 713.70,669.40 713.95,669.74 714.20,669.99 714.45,670.17 714.70,670.29 714.95,670.35 715.20,670.36 715.45,670.31 715.70,670.18 715.95,669.94 716.20,669.56 716.45,669.02 716.70,668.38 716.95,668.01 717.00,668.00 717.20,668.23 717.45,668.87 717.70,669.54 717.95,670.06 718.20,670.42 718.45,670.67 718.70,670.85 718.95,670.98 719.20,671.07 719.45,671.14 719.70,671.19 719.95,671.23 720.20,671.25 720.45,671.27 720.70,671.29 720.95,671.29 721.20,671.29 721.45,671.29 721.70,671.27 721.95,671.25 722.20,671.22 722.45,671.18 722.70,671.12 722.95,671.04 723.20,670.94 723.45,670.79 723.70,670.58 723.95,670.27 724.20,669.83 724.45,669.20 724.70,668.42 724.95,667.75 725.10,667.60 725.20,667.65 725.45,668.20 725.70,668.94 725.95,669.55 726.20,669.96 726.45,670.21 726.70,670.34 726.95,670.37 727.20,670.32 727.45,670.17 727.70,669.91 727.95,669.49 728.20,668.86 728.45,667.96 728.70,666.94 728.95,666.32 729.00,666.30 729.20,666.62 729.45,667.57 729.70,668.56 729.95,669.32 730.20,669.84 730.45,670.19 730.70,670.42 730.95,670.56 731.20,670.66 731.45,670.70 731.70,670.71 731.95,670.69 732.20,670.63 732.45,670.53 732.70,670.38 732.95,670.17 733.20,669.85 733.45,669.40 733.70,668.73 733.95,667.75 734.20,666.39 734.45,664.75 734.70,663.53 734.80,663.40 734.95,663.67 735.20,665.03 735.45,666.61 735.70,667.85 735.95,668.71 736.20,669.27 736.45,669.62 736.70,669.82 736.95,669.89 737.20,669.84 737.45,669.66 737.70,669.32 737.95,668.80 738.20,668.19 738.45,667.81 738.50,667.80 738.70,668.00 738.95,668.59 739.20,669.20 739.45,669.65 739.70,669.94 739.95,670.11 740.20,670.19 740.45,670.19 740.70,670.14 740.95,670.02 741.20,669.84 741.45,669.57 741.70,669.19 741.95,668.65 742.20,667.89 742.45,666.81 742.70,665.28 742.95,663.22 743.20,660.81 743.45,658.88 743.60,658.50 743.70,658.68 743.95,660.36 744.20,662.77 744.45,664.94 744.70,666.57 744.95,667.74 745.20,668.57 745.45,669.16 745.70,669.59 745.95,669.90 746.20,670.14 746.45,670.31 746.70,670.44 746.95,670.53 747.20,670.58 747.45,670.62 747.70,670.62 747.95,670.60 748.20,670.55 748.45,670.47 748.70,670.33 748.95,670.14 749.20,669.86 749.45,669.45 749.70,668.87 749.95,668.07 750.20,667.05 750.45,666.05 750.70,665.60 750.95,666.03 751.20,667.02 751.45,668.02 751.70,668.81 751.95,669.37 752.20,669.75 752.45,670.00 752.70,670.17 752.95,670.27 753.20,670.31 753.45,670.31 753.70,670.27 753.95,670.18 754.20,670.05 754.45,669.86 754.70,669.59 754.95,669.22 755.20,668.71 755.45,668.00 755.70,667.01 755.95,665.59 756.20,663.62 756.45,661.08 756.70,658.40 756.95,656.85 757.00,656.80 757.20,657.55 757.45,659.96 757.70,662.65 757.95,664.86 758.20,666.47 758.45,667.61 758.70,668.40 758.95,668.96 759.20,669.34 759.45,669.60 759.70,669.76 759.95,669.81 760.20,669.77 760.45,669.59 760.70,669.26 760.95,668.76 761.20,668.16 761.45,667.80 761.50,667.80 761.70,668.04 761.95,668.69 762.20,669.37 762.45,669.89 762.70,670.25 762.95,670.50 763.20,670.67 763.45,670.79 763.70,670.87 763.95,670.92 764.20,670.94 764.45,670.95 764.70,670.94 764.95,670.91 765.20,670.85 765.45,670.77 765.70,670.65 765.95,670.47 766.20,670.24 766.45,669.90 766.70,669.45 766.95,668.86 767.20,668.21 767.45,667.71 767.60,667.60 767.70,667.63 767.95,668.01 768.20,668.60 768.45,669.13 768.70,669.53 768.95,669.76 769.20,669.84 769.45,669.77 769.70,669.52 769.95,669.05 770.20,668.42 770.45,668.01 770.50,668.00 770.70,668.24 770.95,668.91 771.20,669.53 771.45,669.96 771.70,670.21 771.95,670.35 772.20,670.40 772.45,670.38 772.70,670.29 772.95,670.13 773.20,669.88 773.45,669.50 773.70,668.93 773.95,668.09 774.20,666.85 774.45,665.14 774.70,663.22 774.95,662.04 775.00,662.00 775.20,662.59 775.45,664.39 775.70,666.27 775.95,667.72 776.20,668.73 776.45,669.42 776.70,669.90 776.95,670.24 777.20,670.48 777.45,670.67 777.70,670.80 777.95,670.90 778.20,670.98 778.45,671.04 778.70,671.08 778.95,671.10 779.20,671.12 779.45,671.12 779.70,671.10 779.95,671.07 780.20,671.02 780.45,670.94 780.70,670.82 780.95,670.64 781.20,670.38 781.45,670.07 781.70,669.83 781.80,669.80 781.95,669.83 782.20,670.05 782.45,670.29 782.70,670.47 782.95,670.57 783.20,670.61 783.45,670.59 783.70,670.53 783.95,670.43 784.20,670.28 784.45,670.08 784.70,669.80 784.95,669.44 785.20,668.94 785.45,668.27 785.70,667.35 785.95,666.08 786.20,664.39 786.45,662.32 786.70,660.27 786.95,659.14 787.00,659.10 787.20,659.65 787.45,661.46 787.70,663.60 787.95,665.46 788.20,666.90 788.45,667.95 788.70,668.71 788.95,669.27 789.20,669.69 789.45,670.00 789.70,670.24 789.95,670.42 790.20,670.55 790.45,670.65 790.70,670.72 790.95,670.76 791.20,670.77 791.45,670.75 791.70,670.69 791.95,670.58 792.20,670.41 792.45,670.13 792.70,669.70 792.95,669.10 793.20,668.43 793.45,668.01 793.50,668.00 793.70,668.22 793.95,668.86 794.20,669.53 794.45,670.03 794.70,670.38 794.95,670.60 795.20,670.74 795.45,670.82 795.70,670.84 795.95,670.80 796.20,670.71 796.45,670.53 796.70,670.25 796.95,669.85 797.20,669.39 797.45,669.11 797.50,669.10 797.70,669.26 797.95,669.71 798.20,670.19 798.45,670.55 798.70,670.80 798.95,670.97 799.20,671.08 799.45,671.16 799.70,671.21 799.95,671.24 800.20,671.25 800.45,671.25 800.70,671.24 800.95,671.21 801.20,671.17 801.45,671.10 801.70,671.02 801.95,670.90 802.20,670.74 802.45,670.51 802.70,670.19 802.95,669.74 803.20,669.11 803.45,668.26 803.70,667.26 803.95,666.46 804.10,666.30 804.20,666.37 804.45,667.07 804.70,668.08 804.95,668.98 805.20,669.66 805.45,670.15 805.70,670.50 805.95,670.74 806.20,670.93 806.45,671.06 806.70,671.16 806.95,671.24 807.20,671.30 807.45,671.35 807.70,671.39 807.95,671.42 808.20,671.44 808.45,671.45 808.70,671.46 808.95,671.46 809.20,671.45 809.45,671.44 809.70,671.42 809.95,671.38 810.20,671.32 810.45,671.24 810.70,671.11 810.95,670.94 811.20,670.74 811.45,670.61 811.50,670.60 811.70,670.64 811.95,670.79 812.20,670.94 812.45,671.04 812.70,671.07 812.95,671.06 813.20,671.00 813.45,670.87 813.70,670.67 813.95,670.35 814.20,669.89 814.45,669.28 814.70,668.69 814.90,668.50 814.95,668.51 815.20,668.91 815.45,669.56 815.70,670.14 815.95,670.56 816.20,670.85 816.45,671.05 816.70,671.19 816.95,671.29 817.20,671.36 817.45,671.41 817.70,671.46 817.95,671.49 818.20,671.51 818.45,671.53 818.70,671.54 818.95,671.56 819.20,671.56 819.45,671.57 819.70,671.57 819.95,671.57 820.20,671.57 820.45,671.57 820.70,671.56 820.95,671.56 821.20,671.55 821.45,671.54 821.70,671.52 821.95,671.51 822.20,671.49 822.45,671.46 822.70,671.44 822.95,671.40 823.20,671.35 823.45,671.30 823.70,671.22 823.95,671.12 824.20,670.99 824.45,670.81 824.70,670.55 824.95,670.18 825.20,669.66 825.45,668.98 825.70,668.33 825.90,668.10 825.95,668.11 826.20,668.50 826.45,669.15 826.70,669.73 826.95,670.13 827.20,670.39 827.45,670.54 827.70,670.62 827.95,670.65 828.20,670.63 828.45,670.57 828.70,670.47 828.95,670.32 829.20,670.11 829.45,669.83 829.70,669.45 829.95,668.92 830.20,668.20 830.45,667.20 830.70,665.87 830.95,664.24 831.20,662.62 831.45,661.73 831.50,661.70 831.70,662.13 831.95,663.54 832.20,665.21 832.45,666.67 832.70,667.78 832.95,668.59 833.20,669.18 833.45,669.60 833.70,669.91 833.95,670.13 834.20,670.29 834.45,670.40 834.70,670.47 834.95,670.50 835.20,670.50 835.45,670.46 835.70,670.38 835.95,670.24 836.20,670.03 836.45,669.71 836.70,669.24 836.95,668.57 837.20,667.73 837.45,666.98 837.60,666.80 837.70,666.83 837.95,667.34 838.20,668.03 838.45,668.55 838.70,668.84 838.95,668.93 839.20,668.83 839.45,668.57 839.70,668.11 839.95,667.43 840.20,666.44 840.45,665.04 840.70,663.15 840.95,660.82 841.20,658.51 841.45,657.24 841.50,657.20 841.70,657.84 841.95,659.92 842.20,662.37 842.45,664.51 842.70,666.15 842.95,667.36 843.20,668.24 843.45,668.89 843.70,669.38 843.95,669.75 844.20,670.03 844.45,670.25 844.70,670.42 844.95,670.56 845.20,670.66 845.45,670.74 845.70,670.81 845.95,670.85 846.20,670.88 846.45,670.89 846.70,670.89 846.95,670.87 847.20,670.83 847.45,670.77 847.70,670.67 847.95,670.54 848.20,670.35 848.45,670.08 848.70,669.71 848.95,669.20 849.20,668.53 849.45,667.76 849.70,667.10 849.90,666.90 849.95,666.91 850.20,667.31 850.45,668.03 850.70,668.76 850.95,669.34 851.20,669.76 851.45,670.05 851.70,670.24 851.95,670.34 852.20,670.37 852.45,670.33 852.70,670.22 852.95,670.03 853.20,669.72 853.45,669.27 853.70,668.67 853.95,667.96 854.20,667.37 854.40,667.20 854.45,667.22 854.70,667.63 854.95,668.35 855.20,669.08 855.45,669.67 855.70,670.12 855.95,670.45 856.20,670.69 856.45,670.87 856.70,671.01 856.95,671.11 857.20,671.20 857.45,671.26 857.70,671.31 857.95,671.36 858.20,671.39 858.45,671.42 858.70,671.44 858.95,671.46 859.20,671.47 859.45,671.48 859.70,671.49 859.95,671.50 860.20,671.50 860.45,671.50 860.70,671.50 860.95,671.49 861.20,671.48 861.45,671.47 861.70,671.45 861.95,671.43 862.20,671.40 862.45,671.37 862.70,671.32 862.95,671.27 863.20,671.19 863.45,671.09 863.70,670.96 863.95,670.77 864.20,670.52 864.45,670.15 864.70,669.61 864.95,668.85 865.20,667.89 865.45,667.08 865.60,666.90 865.70,666.97 865.95,667.65 866.20,668.58 866.45,669.34 866.70,669.87 866.95,670.22 867.20,670.43 867.45,670.54 867.70,670.57 867.95,670.53 868.20,670.41 868.45,670.18 868.70,669.82 868.95,669.30 869.20,668.70 869.45,668.32 869.50,668.30 869.70,668.45 869.95,668.96 870.20,669.46 870.45,669.82 870.70,670.00 870.95,670.05 871.20,669.98 871.45,669.77 871.70,669.40 871.95,668.82 872.20,667.92 872.45,666.63 872.70,664.99 872.95,663.58 873.10,663.30 873.20,663.44 873.45,664.70 873.70,666.40 873.95,667.82 874.20,668.83 874.45,669.53 874.70,670.01 874.95,670.34 875.20,670.57 875.45,670.74 875.70,670.85 875.95,670.92 876.20,670.95 876.45,670.94 876.70,670.89 876.95,670.78 877.20,670.60 877.45,670.32 877.70,669.99 877.95,669.80 878.00,669.80 878.20,669.92 878.45,670.26 878.70,670.61 878.95,670.89 879.20,671.08 879.45,671.21 879.70,671.31 879.95,671.37 880.20,671.42 880.45,671.46 880.70,671.49 880.95,671.51 881.20,671.53 881.45,671.54 881.70,671.55 881.95,671.55 882.20,671.56 882.45,671.56 882.70,671.56 882.95,671.56 883.20,671.55 883.45,671.54 883.70,671.53 883.95,671.52 884.20,671.51 884.45,671.49 884.70,671.47 884.95,671.44 885.20,671.40 885.45,671.36 885.70,671.30 885.95,671.23 886.20,671.14 886.45,671.01 886.70,670.83 886.95,670.58 887.20,670.22 887.45,669.73 887.70,669.18 887.95,668.82 888.00,668.80 888.20,668.91 888.45,669.33 888.70,669.75 888.95,670.05 889.20,670.21 889.45,670.26 889.70,670.21 889.95,670.09 890.20,669.87 890.45,669.56 890.70,669.10 890.95,668.48 891.20,667.66 891.45,666.64 891.70,665.57 891.95,664.77 892.10,664.60 892.20,664.64 892.45,665.23 892.70,666.16 892.95,667.07 893.20,667.76 893.45,668.18 893.70,668.33 893.95,668.19 894.20,667.74 894.45,666.94 894.70,665.97 894.95,665.40 895.00,665.40 895.20,665.83 895.45,666.97 895.70,668.15 895.95,669.06 896.20,669.70 896.45,670.15 896.70,670.47 896.95,670.70 897.20,670.87 897.45,671.00 897.70,671.11 897.95,671.19 898.20,671.25 898.45,671.30 898.70,671.35 898.95,671.38 899.20,671.41 899.45,671.44 899.70,671.46 899.95,671.48 900.20,671.49 900.45,671.50 900.70,671.51 900.95,671.51 901.20,671.52 901.45,671.52 901.70,671.52 901.95,671.51 902.20,671.51 902.45,671.50 902.70,671.48 902.95,671.47 903.20,671.44 903.45,671.42 903.70,671.38 903.95,671.34 904.20,671.28 904.45,671.21 904.70,671.12 904.95,670.99 905.20,670.82 905.45,670.59 905.70,670.25 905.95,669.76 906.20,669.05 906.45,668.09 906.70,667.00 906.95,666.32 907.00,666.30 907.20,666.62 907.45,667.62 907.70,668.65 907.95,669.45 908.20,670.00 908.45,670.37 908.70,670.62 908.95,670.78 909.20,670.90 909.45,670.97 909.70,671.01 909.95,671.02 910.20,671.01 910.45,670.97 910.70,670.91 910.95,670.80 911.20,670.65 911.45,670.42 911.70,670.09 911.95,669.60 912.20,668.90 912.45,667.98 912.70,667.10 912.90,666.80 912.95,666.82 913.20,667.37 913.45,668.29 913.70,669.09 913.95,669.66 914.20,670.03 914.45,670.27 914.70,670.40 914.95,670.46 915.20,670.46 915.45,670.40 915.70,670.28 915.95,670.10 916.20,669.83 916.45,669.43 916.70,668.87 916.95,668.06 917.20,666.94 917.45,665.48 917.70,663.94 917.95,663.03 918.00,663.00 918.20,663.41 918.45,664.74 918.70,666.23 918.95,667.43 919.20,668.26 919.45,668.80 919.70,669.09 919.95,669.16 920.20,669.00 920.45,668.56 920.70,667.86 920.95,667.32 921.00,667.30 921.20,667.56 921.45,668.25 921.70,668.77 921.95,669.00 922.20,668.97 922.45,668.71 922.70,668.21 922.95,667.40 923.20,666.20 923.45,664.54 923.70,662.57 923.95,661.00 924.10,660.70 924.20,660.86 924.45,662.28 924.70,664.32 924.95,666.15 925.20,667.53 925.45,668.53 925.70,669.24 925.95,669.75 926.20,670.13 926.45,670.42 926.70,670.63 926.95,670.80 927.20,670.94 927.45,671.05 927.70,671.14 927.95,671.22 928.20,671.28 928.45,671.33 928.70,671.38 928.95,671.42 929.20,671.45 929.45,671.48 929.70,671.50 929.95,671.53 930.20,671.55 930.45,671.56 930.70,671.58 930.95,671.59 931.20,671.60 931.45,671.61 931.70,671.62 931.95,671.63 932.20,671.64 932.45,671.65 932.70,671.65 932.95,671.66 933.20,671.66 933.45,671.66 933.70,671.66 933.95,671.66 934.20,671.66 934.45,671.66 934.70,671.66 934.95,671.65 935.20,671.64 935.45,671.63 935.70,671.62 935.95,671.60 936.20,671.57 936.45,671.53 936.70,671.48 936.95,671.41 937.20,671.30 937.45,671.14 937.70,670.93 937.95,670.71 938.20,670.60 938.45,670.70 938.70,670.92 938.95,671.12 939.20,671.27 939.45,671.38 939.70,671.45 939.95,671.49 940.20,671.52 940.45,671.54 940.70,671.55 940.95,671.55 941.20,671.55 941.45,671.54 941.70,671.53 941.95,671.51 942.20,671.49 942.45,671.46 942.70,671.43 942.95,671.39 943.20,671.34 943.45,671.27 943.70,671.19 943.95,671.09 944.20,670.96 944.45,670.80 944.70,670.57 944.95,670.28 945.20,669.87 945.45,669.32 945.70,668.57 945.95,667.61 946.20,666.56 946.45,665.76 946.60,665.60 946.70,665.67 946.95,666.35 947.20,667.39 947.45,668.38 947.70,669.17 947.95,669.75 948.20,670.18 948.45,670.49 948.70,670.71 948.95,670.89 949.20,671.01 949.45,671.11 949.70,671.18 949.95,671.24 950.20,671.28 950.45,671.31 950.70,671.32 950.95,671.33 951.20,671.32 951.45,671.31 951.70,671.27 951.95,671.22 952.20,671.15 952.45,671.05 952.70,670.90 952.95,670.68 953.20,670.36 953.45,669.89 953.70,669.23 953.95,668.45 954.20,667.86 954.30,667.80 954.45,667.93 954.70,668.59 954.95,669.35 955.20,669.95 955.45,670.37 955.70,670.64 955.95,670.82 956.20,670.92 956.45,670.97 956.70,670.98 956.95,670.94 957.20,670.85 957.45,670.69 957.70,670.44 957.95,670.06 958.20,669.49 958.45,668.74 958.70,668.03 958.90,667.80 958.95,667.82 959.20,668.31 959.45,669.11 959.70,669.82 959.95,670.33 960.20,670.69 960.45,670.94 960.70,671.11 960.95,671.23 961.20,671.32 961.45,671.39 961.70,671.44 961.95,671.48 962.20,671.51 962.45,671.54 962.70,671.56 962.95,671.57 963.20,671.58 963.45,671.58 963.70,671.59 963.95,671.59 964.20,671.58 964.45,671.58 964.70,671.57 964.95,671.55 965.20,671.54 965.45,671.51 965.70,671.48 965.95,671.45 966.20,671.41 966.45,671.35 966.70,671.28 966.95,671.19 967.20,671.08 967.45,670.93 967.70,670.74 967.95,670.47 968.20,670.11" fill="none" stroke="#0a0a0a" stroke-width="2.0" stroke-linejoin="round" stroke-linecap="round"/>
<path d="M142.70,350.71 143.20,350.40 143.70,350.67 144.20,350.59 144.70,350.26 145.20,351.39 145.70,351.64 146.20,351.25 146.70,351.59 147.20,352.07 147.70,352.01 148.20,351.90 148.70,351.85 149.20,352.76 149.70,353.10 150.20,353.02 150.70,352.89 151.20,354.04 151.70,353.84 152.20,353.82 152.70,354.67 153.20,353.92 153.70,353.17 154.20,353.24 154.70,353.13 155.20,354.32 155.70,354.19 156.20,354.19 156.70,354.67 157.20,354.08 157.70,354.35 158.20,353.73 158.70,353.97 159.20,354.43 159.70,355.75 160.20,356.06 160.70,355.34 161.20,355.47 161.70,355.35 162.20,355.40 162.70,354.79 163.20,354.16 163.70,354.38 164.20,355.75 164.70,356.69 165.20,355.89 165.70,355.57 166.20,356.35 166.70,355.91 167.20,355.59 167.70,355.57 168.00,355.45 168.05,355.43 168.10,355.41 168.15,355.39 168.20,355.37 168.20,355.37 168.25,355.34 168.30,355.30 168.35,355.27 168.40,355.24 168.45,355.20 168.50,355.17 168.55,355.13 168.60,355.10 168.65,355.07 168.70,355.03 168.70,355.03 168.75,355.01 168.80,354.98 168.85,354.95 168.90,354.93 168.95,354.90 169.00,354.87 169.05,354.85 169.10,354.82 169.15,354.79 169.20,354.77 169.20,354.77 169.25,354.83 169.30,354.90 169.35,354.96 169.40,355.02 169.45,355.08 169.50,355.13 169.55,355.18 169.60,355.22 169.65,355.27 169.70,355.30 169.70,355.30 169.75,355.30 169.80,355.28 169.85,355.27 169.90,355.25 169.95,355.23 170.00,355.21 170.05,355.18 170.10,355.15 170.15,355.12 170.20,355.08 170.20,355.08 170.25,355.05 170.30,355.01 170.35,354.97 170.40,354.93 170.45,354.88 170.50,354.84 170.55,354.79 170.60,354.74 170.65,354.68 170.70,354.63 170.70,354.63 170.75,354.46 170.80,354.30 170.85,354.13 170.90,353.96 170.95,353.79 171.00,353.62 171.05,353.45 171.10,353.27 171.15,353.10 171.20,352.92 171.20,352.92 171.25,352.75 171.30,352.58 171.35,352.41 171.40,352.24 171.45,352.07 171.50,351.90 171.55,351.72 171.60,351.55 171.65,351.37 171.70,351.20 171.70,351.20 171.75,351.17 171.80,351.15 171.85,351.12 171.90,351.08 171.95,351.02 172.00,350.96 172.05,350.88 172.10,350.79 172.15,350.70 172.20,350.59 172.20,350.59 172.25,350.47 172.30,350.33 172.35,350.19 172.40,350.04 172.45,349.88 172.50,349.71 172.55,349.54 172.60,349.36 172.65,349.17 172.70,348.98 172.70,348.98 172.75,348.64 172.80,348.29 172.85,347.94 172.90,347.59 172.95,347.24 173.00,346.88 173.05,346.52 173.10,346.16 173.15,345.79 173.20,345.42 173.20,345.42 173.25,345.06 173.30,344.69 173.35,344.31 173.40,343.93 173.45,343.54 173.50,343.15 173.55,342.74 173.60,342.33 173.65,341.90 173.70,341.46 173.70,341.46 173.75,341.05 173.80,340.62 173.85,340.17 173.90,339.72 173.95,339.25 174.00,338.76 174.05,338.26 174.10,337.74 174.15,337.20 174.20,336.65 174.20,336.65 174.25,336.09 174.30,335.52 174.35,334.93 174.40,334.32 174.45,333.69 174.50,333.03 174.55,332.35 174.60,331.65 174.65,330.87 174.70,329.99 174.70,329.99 174.75,329.02 174.80,327.94 174.85,326.77 174.90,325.52 174.95,324.17 175.00,322.75 175.05,321.26 175.10,319.69 175.15,318.06 175.20,316.36 175.20,316.36 175.25,314.61 175.30,312.80 175.35,310.95 175.40,309.05 175.45,307.12 175.50,305.15 175.55,303.16 175.60,301.15 175.65,299.11 175.70,297.06 175.70,297.06 175.75,294.99 175.80,292.82 175.85,290.57 175.90,288.23 175.95,285.80 176.00,283.28 176.05,280.68 176.10,277.99 176.15,275.22 176.20,272.36 176.20,272.36 176.25,269.38 176.30,266.33 176.35,263.20 176.40,259.98 176.45,256.69 176.50,253.32 176.55,249.87 176.60,246.34 176.65,242.74 176.70,239.06 176.70,239.06 176.75,235.24 176.80,231.23 176.85,227.02 176.90,222.62 176.95,218.03 177.00,213.25 177.05,208.30 177.10,203.16 177.15,197.85 177.20,192.37 177.20,192.37 177.25,186.72 177.30,180.91 177.35,174.60 177.40,167.60 177.45,160.12 177.50,152.36 177.55,144.53 177.60,136.85 177.65,129.53 177.70,122.77 177.70,122.77 177.75,116.42 177.80,110.26 177.85,104.36 177.90,98.81 177.95,93.68 178.00,88.86 178.05,84.22 178.10,79.78 178.15,75.57 178.20,71.62 178.20,71.62 178.25,67.95 178.30,64.60 178.30,64.60 178.35,67.14 178.40,70.36 178.45,74.18 178.50,78.51 178.55,83.26 178.60,88.34 178.65,93.66 178.70,99.59 178.70,99.59 178.75,106.47 178.80,114.21 178.85,122.73 178.90,132.75 178.95,144.49 179.00,157.03 179.05,169.45 179.10,180.87 179.15,191.29 179.20,201.38 179.20,201.38 179.25,211.17 179.30,220.68 179.35,229.95 179.40,239.01 179.45,248.05 179.50,257.14 179.55,266.10 179.60,274.76 179.65,282.94 179.70,290.46 179.70,290.46 179.75,297.16 179.80,303.33 179.85,309.32 179.90,314.99 179.95,320.22 180.00,324.88 180.05,328.84 180.10,331.97 180.15,334.56 180.20,336.96 180.20,336.96 180.25,339.16 180.30,341.13 180.35,342.86 180.40,344.32 180.45,345.50 180.50,346.37 180.55,347.05 180.60,347.67 180.65,348.23 180.70,348.73 180.70,348.73 180.75,349.24 180.80,349.69 180.85,350.11 180.90,350.49 180.95,350.84 181.00,351.16 181.05,351.46 181.10,351.74 181.15,352.00 181.20,352.27 181.20,352.27 181.25,352.51 181.30,352.75 181.35,352.99 181.40,353.22 181.45,353.45 181.50,353.67 181.55,353.88 181.60,354.09 181.65,354.29 181.70,354.48 181.70,354.48 181.75,354.62 181.80,354.75 181.85,354.87 181.90,354.97 181.95,355.06 182.00,355.14 182.05,355.20 182.10,355.25 182.15,355.28 182.20,355.30 182.20,355.30 182.25,355.29 182.30,355.26 182.35,355.22 182.40,355.18 182.45,355.14 182.50,355.09 182.55,355.05 182.60,355.00 182.65,354.96 182.70,354.91 182.70,354.91 182.75,354.91 182.80,354.91 182.85,354.91 182.90,354.92 182.95,354.92 183.00,354.92 183.05,354.92 183.10,354.93 183.15,354.93 183.20,354.94 183.20,354.94 183.25,354.93 183.30,354.93 183.35,354.93 183.40,354.93 183.45,354.92 183.50,354.92 183.55,354.92 183.60,354.91 183.65,354.91 183.70,354.91 183.70,354.91 183.75,354.94 183.80,354.96 183.85,354.99 183.90,355.02 183.95,355.05 184.00,355.08 184.05,355.11 184.10,355.14 184.15,355.17 184.20,355.20 184.20,355.20 184.25,355.28 184.30,355.36 184.35,355.44 184.40,355.52 184.45,355.60 184.50,355.68 184.55,355.76 184.60,355.85 184.65,355.93 184.70,356.01 184.70,356.01 184.75,356.04 184.80,356.06 184.85,356.09 184.90,356.12 184.95,356.14 185.00,356.17 185.05,356.19 185.10,356.22 185.15,356.24 185.20,356.27 185.20,356.27 185.25,356.24 185.30,356.20 185.35,356.17 185.40,356.13 185.45,356.10 185.50,356.06 185.55,356.02 185.60,355.99 185.65,355.95 185.70,355.92 185.70,355.92 185.75,355.90 185.80,355.89 185.85,355.87 185.90,355.86 185.95,355.84 186.20,355.76 186.70,355.71 187.20,355.41 187.70,355.18 188.20,355.00 188.70,355.59 189.20,356.61 189.70,356.12 190.20,355.31 190.70,355.01 191.20,355.03 191.70,355.59 192.20,355.53 192.70,354.98 193.20,355.48 193.70,355.63 194.20,356.25 194.70,356.24 195.20,356.47 195.70,355.72 196.20,355.57 196.70,356.03 197.20,356.44 197.70,356.06 198.20,355.37 198.70,355.76 199.20,355.87 199.70,355.62 200.20,355.85 200.70,356.66 201.20,355.96 201.70,355.66 202.20,356.26 202.70,356.24 203.20,356.20 203.70,356.53 204.20,356.50 204.70,356.49 205.20,356.65 205.70,356.26 206.20,355.75 206.70,355.69 207.20,355.77 207.70,355.89 208.20,355.25 208.70,354.98 209.20,355.56 209.70,355.07 210.20,354.91 210.70,355.76 211.20,355.80 211.70,356.04 212.20,355.64 212.70,355.16 213.20,355.11 213.70,355.48 214.20,355.62 214.70,355.48 215.20,355.44 215.70,355.17 216.20,355.42 216.70,355.04 217.20,355.67 217.70,356.42 218.20,356.85 218.70,356.68 219.20,355.56 219.70,356.23 220.20,356.78 220.70,356.42 221.20,355.67 221.70,356.24 222.20,356.61 222.70,355.54 223.20,356.08 223.70,356.43 224.20,355.87 224.70,355.94 225.20,355.38 225.70,355.19 226.20,355.26 226.70,355.35 227.20,354.95 227.70,354.52 228.00,354.02 228.20,353.84 228.70,354.67 229.20,355.93 229.70,356.05 230.20,355.60 230.70,356.17 231.20,356.12 231.70,356.38 232.20,356.65 232.70,356.93 233.20,356.25 233.70,355.21 234.20,355.49 234.70,356.45 235.20,356.56 235.70,356.97 236.20,356.64 236.70,356.32 237.20,356.77 237.70,355.97 238.20,355.75 238.70,356.94 239.20,356.11 239.70,356.78 240.20,357.24 240.70,356.64 241.20,356.08 241.70,356.73 242.20,356.01 242.70,355.85 243.20,356.56 243.70,357.22 244.20,357.28 244.70,357.27 245.20,356.82 245.70,356.61 246.20,356.35 246.70,356.77 247.20,357.22 247.70,357.09 248.20,357.17 248.70,356.79 249.20,356.72 249.70,356.99 250.20,357.11 250.70,357.40 251.20,357.57 251.70,357.93 252.20,357.16 252.70,356.56 253.20,356.08 253.70,356.25 254.20,356.25 254.50,355.92 254.70,355.78 255.20,356.32 255.70,357.07 256.20,357.06 256.70,357.19 257.20,357.84 257.70,357.78 258.20,357.97 258.70,358.44 259.20,358.36 259.70,357.64 260.20,357.49 260.70,357.83 261.20,357.51 261.70,357.14 262.20,358.24 262.70,358.30 263.20,358.17 263.70,357.78 264.20,358.39 264.70,357.98 265.20,357.72 265.70,357.40 266.20,357.80 266.70,358.01 267.20,358.14 267.70,358.42 268.20,358.51 268.70,358.68 269.20,358.07 269.70,357.76 270.20,358.28 270.70,358.88 271.20,359.24 271.70,358.74 272.20,357.79 272.70,358.61 273.20,359.28 273.70,358.71 274.20,358.36 274.70,358.56 275.20,358.51 275.70,358.86 276.20,358.98 276.70,359.44 277.20,359.05 277.70,358.55 278.20,359.08 278.70,359.24 279.20,358.61 279.70,358.15 280.20,357.81 280.70,358.85 281.20,358.42 281.70,357.51 282.20,357.71 282.70,358.71 283.20,359.32 283.70,359.19 284.20,359.09 284.70,358.40 285.20,358.42 285.70,359.42 286.20,359.53 286.70,359.45 287.20,359.67 287.70,358.91 288.20,359.06 288.70,360.01 289.20,360.36 289.70,359.89 290.20,360.05 290.70,359.37 291.20,359.39 291.70,359.07 292.20,358.62 292.70,359.41 293.20,359.88 293.70,359.49 294.20,359.60 294.70,359.91 295.20,358.83 295.70,358.43 296.20,358.73 296.70,359.03 297.20,360.02 297.70,359.75 298.20,359.07 298.70,359.58 299.20,360.76 299.70,359.62 300.20,359.17 300.70,359.73 301.20,360.01 301.70,359.70 302.20,359.05 302.70,359.04 303.20,359.77 303.70,359.49 304.20,359.08 304.70,360.14 305.20,360.25 305.70,359.70 306.20,359.62 306.70,359.72 307.20,359.26 307.70,359.08 308.20,359.51 308.70,359.23 309.20,359.55 309.70,359.19 310.20,359.55 310.70,360.08 311.20,360.56 311.70,359.44 312.20,358.94 312.70,359.20 313.20,359.19 313.70,359.55 314.20,360.20 314.70,360.69 315.20,360.78 315.70,360.30 316.20,361.43 316.70,361.29 317.20,359.77 317.70,358.74 318.20,359.49 318.70,359.53 319.20,358.77 319.70,359.48 320.20,359.63 320.70,359.51 321.20,360.15 321.70,360.31 322.20,359.75 322.70,359.70 323.20,359.35 323.70,359.27 324.20,359.73 324.70,359.90 325.20,359.16 325.70,358.62 326.20,359.35 326.70,359.01 327.20,359.74 327.70,360.51 328.20,359.71 328.70,358.82 329.20,358.93 329.70,359.89 330.00,359.84 330.10,359.82 330.20,359.81 330.20,359.81 330.30,359.83 330.40,359.84 330.50,359.87 330.60,359.89 330.70,359.91 330.70,359.91 330.80,359.92 330.90,359.94 331.00,359.95 331.10,359.97 331.20,359.98 331.20,359.98 331.30,359.91 331.40,359.84 331.50,359.76 331.60,359.68 331.70,359.60 331.70,359.60 331.80,359.51 331.90,359.42 332.00,359.33 332.10,359.23 332.20,359.12 332.20,359.12 332.30,358.98 332.40,358.83 332.50,358.69 332.60,358.54 332.70,358.40 332.70,358.40 332.80,358.20 332.90,357.96 333.00,357.67 333.10,357.32 333.20,356.91 333.20,356.91 333.30,356.55 333.40,355.97 333.50,355.03 333.60,353.82 333.70,352.29 333.70,352.29 333.80,350.04 333.90,347.35 334.00,344.50 334.10,341.24 334.20,337.87 334.20,337.87 334.30,334.71 334.40,331.67 334.50,328.71 334.60,325.86 334.70,323.13 334.70,323.13 334.80,320.50 334.90,317.94 335.00,315.40 335.10,312.91 335.20,310.49 335.20,310.49 335.30,308.10 335.40,305.65 335.50,303.44 335.60,301.77 335.70,300.32 335.70,300.32 335.80,299.13 335.90,298.26 335.90,298.26 336.00,299.13 336.10,300.33 336.20,301.78 336.20,301.78 336.30,303.46 336.40,305.67 336.50,308.12 336.60,310.52 336.70,312.95 336.70,312.95 336.80,315.44 336.90,317.97 337.00,320.54 337.10,323.16 337.20,325.88 337.20,325.88 337.30,328.73 337.40,331.69 337.50,334.74 337.60,337.90 337.70,341.30 337.70,341.30 337.80,344.59 337.90,347.48 338.00,350.23 338.10,352.53 338.20,354.10 338.20,354.10 338.30,355.43 338.40,356.49 338.50,357.21 338.60,357.72 338.70,358.17 338.70,358.17 338.80,358.50 338.90,358.76 339.00,358.97 339.10,359.11 339.20,359.22 339.20,359.22 339.30,359.35 339.40,359.47 339.50,359.58 339.60,359.70 339.70,359.80 339.70,359.80 339.80,359.94 339.90,360.06 340.00,360.19 340.10,360.31 340.20,360.42 340.20,360.42 340.30,360.42 340.40,360.40 340.50,360.39 340.60,360.36 340.70,360.34 340.70,360.34 340.80,360.28 340.90,360.21 341.00,360.14 341.10,360.07 341.20,359.99 341.20,359.99 341.30,359.97 341.40,359.96 341.50,359.94 341.60,359.92 341.70,359.90 341.70,359.90 341.80,359.79 341.90,359.67 342.20,359.32 342.70,359.79 343.20,359.68 343.70,359.27 344.20,360.08 344.70,359.81 345.20,359.98 345.70,359.90 346.20,360.47 346.70,360.52 347.20,359.42 347.70,358.96 348.20,359.69 348.70,360.21 349.20,359.74 349.70,359.60 350.20,359.52 350.70,358.38 351.20,358.69 351.70,358.88 352.20,359.34 352.70,358.97 353.20,358.66 353.70,358.71 354.20,358.45 354.70,358.79 355.20,358.66 355.70,358.55 356.20,358.61 356.70,359.10 357.20,358.87 357.70,358.83 358.20,358.41 358.70,357.51 359.20,357.15 359.70,356.16 360.20,354.65 360.70,352.99 361.20,352.22 361.40,352.44 361.70,353.06 362.20,354.28 362.70,354.47 363.20,355.66 363.70,356.49 364.20,357.34 364.70,357.58 365.20,356.94 365.70,354.86 366.20,354.09 366.70,352.68 367.20,350.65 367.70,347.80 368.20,345.22 368.70,343.94 369.20,343.13 369.70,342.22 370.20,344.85 370.70,348.18 371.20,350.72 371.70,352.57 372.20,353.76 372.70,355.18 373.20,356.77 373.70,357.38 374.20,356.90 374.70,356.37 375.20,356.39 375.70,356.10 376.20,355.76 376.70,354.68 377.20,353.24 377.70,351.90 378.20,350.09 378.70,349.17 379.20,347.58 379.70,345.24 380.20,344.30 380.70,343.68 380.80,343.81 381.20,344.58 381.70,345.42 382.20,346.29 382.70,348.00 383.20,349.09 383.70,350.32 384.20,351.76 384.70,353.09 385.20,354.03 385.70,354.74 386.20,355.10 386.70,355.97 387.20,356.23 387.70,355.45 388.20,355.17 388.70,356.21 389.20,356.59 389.70,355.88 390.20,355.39 390.70,356.18 391.20,356.50 391.70,355.43 392.20,355.88 392.70,355.77 393.20,355.55 393.70,355.74 394.20,355.19 394.70,355.60 395.20,355.72 395.70,354.36 396.20,352.25 396.70,349.95 397.20,347.73 397.70,345.70 398.20,344.88 398.70,343.22 398.90,342.84 399.20,342.73 399.70,344.10 400.20,346.67 400.70,349.47 401.20,351.92 401.70,354.65 402.20,355.27 402.70,355.92 403.20,357.20 403.70,358.27 404.20,358.35 404.70,357.76 405.20,357.97 405.70,358.24 406.20,358.49 406.70,358.33 407.20,357.74 407.70,357.67 408.20,358.03 408.70,357.77 409.20,358.19 409.70,357.25 410.20,355.96 410.70,355.38 411.20,354.84 411.70,354.84 411.80,354.87 412.20,355.15 412.70,354.56 413.20,354.97 413.70,356.55 414.20,357.25 414.70,357.77 415.20,358.11 415.70,358.15 416.20,358.32 416.70,357.83 417.20,357.90 417.70,357.62 418.20,357.66 418.70,358.50 419.20,358.39 419.70,357.33 420.20,357.59 420.70,358.58 421.20,358.94 421.70,358.33 422.20,358.12 422.70,358.26 423.20,359.68 423.70,359.42 424.20,359.28 424.70,359.31 425.20,359.38 425.70,359.14 426.20,358.80 426.70,358.95 427.20,358.88 427.70,358.91 428.20,358.03 428.70,357.87 429.20,358.46 429.70,358.65 430.20,357.93 430.70,357.29 431.20,357.25 431.70,357.41 432.20,358.21 432.70,358.02 433.20,357.77 433.70,357.15 434.20,356.78 434.70,357.47 435.20,357.70 435.70,357.02 436.20,356.54 436.70,356.49 437.20,355.80 437.70,355.37 438.20,354.09 438.70,353.01 439.20,352.41 439.70,351.24 440.20,349.76 440.70,347.01 441.20,344.68 441.70,342.51 442.20,341.25 442.30,341.29 442.70,341.84 443.20,343.90 443.70,345.62 444.20,348.50 444.70,350.63 445.20,351.81 445.70,353.60 446.20,354.41 446.70,355.16 447.20,355.38 447.70,355.80 448.20,355.57 448.70,356.01 449.20,355.90 449.70,356.08 450.20,356.46 450.70,356.31 451.20,356.15 451.70,356.31 452.20,355.76 452.70,354.47 453.20,354.34 453.70,353.69 454.20,352.57 454.60,352.41 454.70,352.43 455.20,352.58 455.70,354.07 456.20,354.48 456.70,355.13 457.20,356.01 457.70,355.86 458.20,355.78 458.70,355.14 459.20,354.88 459.70,354.64 460.20,355.17 460.70,355.70 461.20,355.47 461.70,355.19 462.20,354.27 462.70,354.02 463.20,354.32 463.70,354.72 464.20,354.52 464.70,354.11 465.20,353.78 465.70,352.86 466.20,352.07 466.70,351.16 467.20,348.97 467.70,347.37 468.20,345.94 468.70,343.72 469.20,342.39 469.50,342.10 469.70,342.15 470.20,343.49 470.70,343.77 471.20,345.65 471.70,348.24 472.20,351.04 472.70,352.10 473.20,352.44 473.70,352.84 474.20,353.93 474.70,354.28 475.20,353.94 475.70,353.64 476.20,354.11 476.70,355.11 477.20,355.59 477.70,355.70 478.20,355.53 478.70,355.23 479.20,355.90 479.70,356.07 480.20,356.70 480.70,357.11 481.20,356.77 481.70,356.96 482.20,357.86 482.70,357.77 483.20,356.85 483.70,356.06 484.20,357.27 484.70,358.21 485.20,358.31 485.70,357.57 486.20,357.37 486.70,357.72 487.20,358.10 487.70,357.54 488.20,357.64 488.70,357.65 489.20,357.84 489.70,357.50 490.20,357.96 490.70,357.71 491.20,357.64 491.70,357.97 492.20,357.75 492.70,356.73 493.20,357.42 493.70,357.56 494.20,357.39 494.70,357.94 495.20,357.85 495.70,357.94 496.20,357.20 496.70,357.15 497.20,358.33 497.70,358.93 498.20,358.42 498.70,358.13 499.20,357.41 499.70,357.00 500.20,357.72 500.70,358.24 501.20,357.15 501.70,357.08 502.20,356.98 502.70,357.89 503.20,358.27 503.70,357.51 504.20,357.84 504.70,358.55 505.20,357.86 505.70,356.90 506.20,356.31 506.70,356.08 507.20,356.68 507.70,356.25 508.20,356.44 508.70,356.11 509.20,355.27 509.70,355.46 510.20,356.39 510.70,356.80 511.20,356.95 511.70,356.89 512.20,357.87 512.70,357.38 513.20,356.72 513.70,357.41 514.20,358.40 514.50,358.78 514.70,359.07 515.20,358.22 515.70,358.21 516.20,359.71 516.70,359.46 517.20,358.95 517.70,358.60 518.20,358.98 518.70,359.98 519.20,359.51 519.70,359.10 520.20,359.41 520.70,360.07 521.20,359.55 521.70,359.73 522.20,359.75 522.70,359.49 523.20,359.19 523.70,359.90 524.20,360.34 524.70,359.54 525.20,358.78 525.70,358.69 526.20,359.27 526.70,359.30 527.20,359.32 527.70,359.16 528.20,358.81 528.70,359.57 529.20,359.61 529.70,359.42 530.20,359.62 530.70,359.86 531.20,359.39 531.70,359.13 532.20,359.61 532.70,359.00 533.20,358.36 533.70,358.04 534.20,358.39 534.70,358.11 535.20,358.24 535.70,358.62 536.20,358.62 536.70,358.80 537.20,358.39 537.70,357.82 538.20,357.60 538.70,357.60 539.20,357.92 539.70,357.62 540.20,357.43 540.70,357.81 541.20,357.52 541.70,356.92 542.20,356.60 542.70,357.31 543.20,357.46 543.70,357.21 544.20,356.83 544.70,356.60 545.20,356.85 545.70,357.05 546.20,356.86 546.70,356.63 547.20,356.43 547.70,356.56 548.20,356.15 548.70,355.31 549.20,354.95 549.70,353.87 550.20,352.05 550.70,349.76 551.20,347.82 551.70,346.77 551.90,346.83 552.20,347.28 552.70,347.72 553.20,349.97 553.70,352.48 554.20,354.74 554.70,355.81 555.20,356.19 555.70,356.64 556.20,357.50 556.70,358.32 557.20,358.59 557.70,358.46 558.20,358.31 558.70,358.70 559.20,359.05 559.70,358.44 560.20,358.92 560.70,359.71 561.20,359.30 561.70,358.84 562.20,359.00 562.70,358.63 563.20,359.02 563.70,359.94 564.20,359.78 564.70,358.50 565.20,359.28 565.70,359.86 566.20,359.00 566.70,359.19 567.20,359.59 567.70,358.98 568.20,359.02 568.70,358.62 569.20,357.98 569.70,358.60 570.20,358.75 570.70,359.20 571.20,359.53 571.70,358.76 572.00,358.40 572.20,358.19 572.70,358.51 573.20,358.87 573.70,359.05 574.20,358.25 574.70,358.00 575.20,358.14 575.70,359.20 576.20,359.27 576.70,358.90 577.20,358.82 577.70,358.84 578.20,358.81 578.70,359.03 579.20,359.35 579.70,360.04 580.20,359.68 580.70,359.04 581.20,359.26 581.70,360.02 582.20,359.93 582.70,359.83 583.20,360.14 583.70,360.19 584.20,359.12 584.70,358.77 585.20,358.74 585.70,359.49 586.20,359.40 586.70,359.14 587.20,359.28 587.70,359.82 588.20,359.61 588.70,359.60 589.20,360.01 589.70,359.22 590.20,359.37 590.70,360.65 591.20,359.87 591.70,359.33 592.20,359.32 592.70,359.71 593.20,360.23 593.70,360.33 594.20,360.12 594.70,359.54 595.20,359.15 595.70,359.97 596.20,360.73 596.70,360.54 597.20,360.06 597.70,360.13 598.20,359.78 598.70,359.57 599.20,359.22 599.70,359.49 600.20,359.74 600.70,359.72 601.20,360.13 601.70,360.50 602.20,359.93 602.70,358.77 603.20,358.07 603.70,357.76 604.20,357.67 604.30,357.76 604.70,358.18 605.20,358.66 605.70,358.90 606.20,359.16 606.70,359.37 607.20,359.37 607.70,359.58 608.20,360.58 608.70,360.43 609.20,359.51 609.70,359.30 610.20,359.56 610.70,360.11 611.20,360.75 611.70,360.87 612.20,360.91 612.70,360.97 613.20,360.97 613.70,360.81 614.20,360.59 614.70,360.11 615.20,359.60 615.70,360.38 616.20,361.16 616.70,360.45 617.20,360.35 617.70,360.96 618.20,360.75 618.70,360.70 619.20,361.41 619.70,361.36 620.20,361.12 620.70,360.73 621.20,360.99 621.70,361.15 622.20,361.37 622.70,361.59 623.20,361.48 623.70,361.12 624.20,360.89 624.70,360.37 625.20,360.81 625.50,360.88 625.70,360.94 626.20,360.50 626.70,360.38 627.20,360.54 627.70,360.43 628.20,360.95 628.70,360.99 629.20,360.61 629.70,361.01 630.20,361.60 630.70,361.74 631.20,361.56 631.70,361.05 632.20,360.81 632.70,360.91 633.20,361.58 633.70,362.33 634.20,362.21 634.70,362.13 635.20,361.65 635.70,360.59 636.20,360.75 636.70,361.09 637.20,361.83 637.70,361.93 638.20,361.12 638.70,361.17 639.20,361.34 639.70,360.97 640.20,360.77 640.70,360.95 641.20,361.35 641.70,361.11 642.20,361.57 642.70,361.52 643.20,361.76 643.70,361.88 644.20,361.07 644.70,360.88 645.20,361.18 645.70,360.80 646.20,360.81 646.70,361.15 647.20,361.16 647.70,360.75 648.20,361.04 648.70,361.66 649.20,361.66 649.70,360.86 650.20,361.68 650.70,361.69 651.20,360.77 651.70,360.60 652.20,361.18 652.70,361.15 653.20,361.33 653.70,361.49 654.20,361.13 654.70,361.19 655.20,361.43 655.70,361.75 656.20,362.19 656.70,362.16 657.20,361.58 657.70,361.63 658.20,362.46 658.70,362.16 659.20,361.72 659.70,361.40 660.20,361.80 660.70,361.53 661.20,361.38 661.70,361.23 662.20,361.56 662.70,361.74 663.20,361.33 663.70,361.51 664.20,361.80 664.70,361.49 665.20,361.44 665.70,361.57 666.20,361.71 666.70,362.26 667.20,362.16 667.70,362.71 668.20,362.76 668.70,362.16 669.20,362.34 669.70,362.25 670.20,362.07 670.70,362.34 671.20,362.64 671.70,363.09 672.20,363.09 672.70,362.43 673.20,362.56 673.70,363.09 674.20,362.96 674.70,362.06 675.20,362.74 675.70,362.77 676.20,362.91 676.60,362.44 676.70,362.33 677.20,362.14 677.70,362.74 678.20,363.31 678.70,362.88 679.20,362.33 679.70,362.99 680.20,362.65 680.70,362.63 681.20,362.60 681.70,362.44 682.20,362.65 682.70,362.91 683.20,363.19 683.70,363.45 684.20,363.27 684.70,362.98 685.20,363.47 685.70,364.08 686.20,364.12 686.70,363.87 687.20,363.99 687.70,364.22 688.20,364.48 688.70,364.41 689.20,363.71 689.70,363.70 690.20,364.38 690.70,364.63 691.20,364.15 691.70,362.98 692.20,362.91 692.70,362.55 693.20,363.58 693.70,363.82 694.20,363.72 694.70,363.83 695.20,364.15 695.70,363.91 696.20,364.15 696.70,364.11 697.20,364.00 697.70,363.98 698.20,363.72 698.70,363.46 699.20,363.98 699.70,364.10 700.20,363.90 700.70,364.14 701.20,364.04 701.70,363.41 702.20,363.52 702.70,363.48 703.20,363.40 703.70,363.61 704.20,363.33 704.70,363.36 705.20,363.63 705.50,363.69 705.70,363.74 706.20,364.03 706.70,364.46 707.20,363.85 707.70,363.67 708.20,363.48 708.70,364.02 709.20,364.49 709.70,364.38 710.20,363.77 710.70,363.87 711.20,364.31 711.70,364.14 712.20,364.13 712.70,363.85 713.20,364.43 713.70,364.53 714.20,364.13 714.70,363.69 715.20,363.81 715.70,364.02 716.20,364.06 716.70,363.93 717.20,363.90 717.70,364.19 718.20,364.27 718.70,363.26 719.20,363.06 719.70,363.19 720.20,363.37 720.70,363.38 721.20,364.04 721.70,364.13 722.20,363.90 722.70,363.82 723.20,364.09 723.70,364.23 724.20,364.17 724.70,363.98 725.20,364.11 725.70,363.85 726.20,364.07 726.70,363.14 727.20,363.46 727.70,363.79 728.20,364.18 728.70,364.01 729.20,364.54 729.70,364.16 730.20,364.87 730.70,364.69 731.20,364.41 731.70,364.73 732.20,365.27 732.70,364.65 733.20,363.79 733.70,364.55 734.20,364.40 734.70,363.92 735.20,364.33 735.70,364.08 736.20,364.37 736.70,364.46 737.20,364.32 737.70,364.49 738.20,364.20 738.70,364.36 739.20,364.30 739.70,364.61 740.20,365.21 740.70,364.67 741.20,364.15 741.70,364.29 742.20,364.28 742.70,364.52 743.20,364.67 743.70,364.67 744.20,364.60 744.70,364.50 745.20,364.87 745.70,365.02 746.20,364.57 746.70,364.60 747.20,364.86 747.70,365.30 748.20,365.17 748.70,364.61 749.20,364.51 749.70,364.11 750.20,364.25 750.70,364.75 751.20,365.14 751.70,365.19 752.20,364.66 752.70,364.36 753.20,364.81 753.70,364.90 754.20,365.02 754.70,365.08 755.20,365.25 755.70,365.33 756.20,365.25 756.70,364.99 757.20,365.19 757.70,364.91 758.20,365.17 758.70,365.71 759.20,365.21 759.70,364.80 760.20,365.51 760.70,365.67 761.20,365.55 761.70,365.25 762.20,365.12 762.70,364.87 763.20,364.90 763.70,365.42 764.20,364.99 764.70,364.73 765.20,365.00 765.70,365.72 766.20,365.49 766.70,364.97 767.20,365.00 767.70,365.28 768.20,365.18 768.70,364.63 769.20,365.10 769.70,364.95 770.20,364.68 770.70,364.87 771.20,365.45 771.70,365.74 772.20,365.33 772.70,365.12 773.20,364.83 773.70,365.18 774.20,365.17 774.70,364.50 775.20,364.73 775.70,365.01 776.20,364.42 776.70,364.73 777.20,364.97 777.70,364.42 778.20,364.66 778.70,365.08 779.20,365.17 779.70,364.78 780.20,365.28 780.70,365.38 781.20,365.60 781.70,365.60 782.20,365.32 782.70,365.01 783.20,364.27 783.70,364.19 784.20,364.44 784.70,364.87 785.20,365.08 785.70,364.43 786.20,364.51 786.70,364.30 787.20,364.46 787.70,365.35 788.20,365.40 788.70,365.74 789.20,365.51 789.70,364.59 790.20,364.47 790.70,365.47 791.20,364.96 791.70,364.62 792.20,365.13 792.70,365.05 793.20,364.73 793.70,364.81 794.20,365.02 794.70,365.13 795.20,365.23 795.70,364.92 796.20,364.91 796.70,365.21 797.20,365.31 797.70,365.40 798.20,365.03 798.70,364.80 799.20,364.75 799.70,365.23 800.20,364.70 800.70,364.80 801.20,364.75 801.70,365.11 802.20,365.12 802.70,364.49 803.20,364.53 803.70,364.53 804.20,365.25 804.70,364.83 805.20,364.32 805.70,364.73 806.20,365.58 806.70,365.85 807.20,365.56 807.70,364.88 808.20,365.07 808.70,365.50 809.20,364.92 809.70,364.71 810.20,364.51 810.70,364.65 811.20,365.40 811.70,365.45 812.20,365.34 812.70,365.42 813.20,365.65 813.70,365.70 814.20,365.18 814.70,364.80 815.20,364.77 815.70,365.25 816.20,364.82 816.70,364.43 817.20,364.78 817.70,365.13 818.20,365.47 818.70,365.42 819.20,364.82 819.70,364.65 820.20,364.71 820.70,364.58 821.20,364.93 821.70,365.22 822.20,364.94 822.70,364.36 823.20,364.61 823.70,365.26 824.20,364.95 824.70,365.29 825.20,365.35 825.70,364.92 826.20,364.71 826.70,364.93 827.20,364.77 827.70,364.93 828.20,365.02 828.70,364.82 829.20,364.89 829.70,364.81 830.20,364.59 830.70,364.80 831.20,364.63 831.70,364.33 832.20,364.73 832.70,364.89 833.20,364.61 833.70,364.39 834.20,365.21 834.70,365.51 835.20,365.45 835.70,365.15 836.20,364.72 836.70,364.90 837.20,365.05 837.70,365.71 838.20,365.27 838.70,365.11 839.20,364.51 839.70,364.46 840.20,364.87 840.70,365.37 841.20,365.43 841.70,365.07 842.20,364.64 842.70,365.20 843.20,365.12 843.70,365.81 844.20,366.08 844.70,365.76 845.20,365.43 845.70,365.11 846.20,365.92 846.70,365.64 847.20,365.42 847.70,364.95 848.20,364.88 848.70,364.69 849.20,364.92 849.70,365.16 850.20,365.41 850.70,365.73 851.20,365.51 851.70,365.30 852.20,365.43 852.70,365.80 853.20,365.33 853.70,365.28 854.20,364.51 854.70,364.67 855.20,365.19 855.70,365.51 856.20,366.51 856.70,366.25 857.20,364.81 857.70,364.60 858.20,365.20 858.70,365.90 859.20,365.82 859.70,365.26 860.20,364.62 860.70,364.41 861.20,363.96 861.70,364.38 862.20,365.25 862.70,365.36 863.20,364.84 863.70,365.27 864.20,365.80 864.70,365.41 865.20,365.18 865.70,365.44 866.20,365.47 866.70,365.23 867.20,364.98 867.70,365.00 868.20,365.12 868.70,365.18 869.20,365.72 869.70,365.81 870.20,365.93 870.70,366.24 871.20,366.17 871.70,365.94 872.20,365.49 872.70,365.46 873.20,365.93 873.70,365.18 874.20,364.83 874.70,364.87 875.20,365.25 875.70,365.52 876.20,365.61 876.70,365.07 877.20,364.64 877.70,365.26 878.20,365.62 878.70,365.35 879.20,365.26 879.70,365.59 880.20,365.80 880.70,365.22 881.20,364.68 881.70,364.87 882.20,364.91 882.70,364.69 883.20,365.22 883.70,365.13 884.20,365.36 884.70,365.35 885.20,365.36 885.70,365.72 886.20,365.17 886.70,364.99 887.20,365.38 887.70,365.59 888.20,365.25 888.70,365.00 889.20,365.46 889.70,365.80 890.20,366.04 890.70,365.46 891.20,365.26 891.70,364.93 892.20,364.70 892.70,365.23 893.20,365.47 893.70,364.95 894.20,364.79 894.70,364.95 895.20,365.54 895.70,365.29 896.20,365.32 896.70,365.06 897.20,365.14 897.70,364.81 898.20,364.41 898.70,365.11 899.20,365.25 899.70,364.62 900.20,364.95 900.70,365.00 901.20,364.85 901.70,364.87 902.20,364.63 902.70,365.30 903.20,365.60 903.70,365.00 904.20,365.30 904.70,365.81 905.20,365.45 905.70,365.04 906.20,364.95 906.70,365.25 907.20,365.36 907.70,365.34 908.20,364.98 908.70,365.46 909.20,365.37 909.70,365.41 910.20,364.99 910.70,364.72 911.20,364.86 911.70,364.88 912.20,365.15 912.70,365.62 913.20,365.79 913.70,365.45 914.20,365.10 914.70,365.17 915.20,365.60 915.70,365.75 916.20,365.33 916.70,365.16 917.20,365.07 917.70,365.42 918.20,365.35 918.70,364.46 919.20,365.02 919.70,364.90 920.20,364.50 920.70,365.16 921.20,365.38 921.70,365.29 922.20,365.15 922.70,365.93 923.20,365.58 923.70,365.40 924.20,365.90 924.70,365.83 925.20,365.83 925.70,365.59 926.20,364.95 926.70,365.64 927.20,365.44 927.70,365.50 928.20,365.61 928.70,365.24 929.20,365.46 929.70,365.64 930.20,365.47 930.70,365.32 931.20,364.71 931.70,364.62 932.20,364.85 932.70,365.77 933.20,366.71 933.70,365.85 934.20,365.32 934.70,365.42 935.20,365.76 935.70,365.58 936.20,365.16 936.70,365.57 937.20,365.55 937.70,365.40 938.20,364.58 938.70,364.66 939.20,365.18 939.70,364.85 940.20,365.32 940.70,365.54 941.20,365.49 941.70,365.53 942.20,365.54 942.70,365.50 943.20,365.27 943.70,365.64 944.20,366.50 944.70,366.16 945.20,365.75 945.70,365.49 946.20,365.19 946.70,365.33 947.20,365.42 947.70,365.56 948.20,364.89 948.70,364.39 949.20,364.99 949.70,365.83 950.20,366.41 950.70,365.89 951.20,365.13 951.70,365.08 952.20,365.00 952.70,365.10 953.20,364.86 953.70,364.76 954.20,365.36 954.70,365.48 955.20,365.38 955.70,365.71 956.20,366.13 956.70,365.61 957.20,365.36 957.70,365.45 958.20,365.01 958.70,365.37 959.20,365.11 959.70,365.03 960.20,365.52 960.70,365.89 961.20,365.43 961.70,365.67 962.20,365.47 962.70,365.06 963.20,365.45 963.70,365.05 964.20,364.71 964.70,364.87 965.20,365.12 965.70,365.43 966.20,365.38 966.70,365.85 967.20,365.56 967.70,365.08 968.20,365.06" fill="none" stroke="#1a4aa6" stroke-width="3.2" stroke-linejoin="round" stroke-linecap="round"/>
<path d="M187.4,593.6 V639.4" stroke="#0a0a0a" stroke-width="1.5" fill="none"/>
<path d="M183.0,638.4 L191.8,638.4 L187.4,656.0 Z" fill="#0a0a0a"/>
<path d="M235.6,566.2 V611.2" stroke="#0a0a0a" stroke-width="1.5" fill="none"/>
<path d="M231.2,610.2 L240.0,610.2 L235.6,627.6 Z" fill="#0a0a0a"/>
<path d="M339.0,556.4 V578.8" stroke="#0a0a0a" stroke-width="1.5" fill="none"/>
<path d="M334.6,577.8 L343.4,577.8 L339.0,595.6 Z" fill="#0a0a0a"/>
<text font-family="'Liberation Serif', serif" font-size="39.5" text-anchor="end" fill="#0a0a0a" stroke="#0a0a0a" stroke-width="0.3" transform="translate(104.6,684.12) scale(0.944,1.078)">0</text>
<text font-family="'Liberation Serif', serif" font-size="39.5" text-anchor="end" fill="#0a0a0a" stroke="#0a0a0a" stroke-width="0.3" transform="translate(104.6,583.45) scale(0.944,1.078)">10</text>
<text font-family="'Liberation Serif', serif" font-size="39.5" text-anchor="end" fill="#0a0a0a" stroke="#0a0a0a" stroke-width="0.3" transform="translate(104.6,482.78) scale(0.944,1.078)">20</text>
<text font-family="'Liberation Serif', serif" font-size="39.5" text-anchor="end" fill="#0a0a0a" stroke="#0a0a0a" stroke-width="0.3" transform="translate(104.6,382.11) scale(0.944,1.078)">30</text>
<text font-family="'Liberation Serif', serif" font-size="39.5" text-anchor="end" fill="#0a0a0a" stroke="#0a0a0a" stroke-width="0.3" transform="translate(104.6,281.44) scale(0.944,1.078)">40</text>
<text font-family="'Liberation Serif', serif" font-size="39.5" text-anchor="end" fill="#0a0a0a" stroke="#0a0a0a" stroke-width="0.3" transform="translate(104.6,180.77) scale(0.944,1.078)">50</text>
<text font-family="'Liberation Serif', serif" font-size="39.5" text-anchor="end" fill="#0a0a0a" stroke="#0a0a0a" stroke-width="0.3" transform="translate(104.6,80.1) scale(0.944,1.078)">60</text>
<text font-family="'Liberation Serif', serif" font-size="39.5" text-anchor="middle" fill="#0a0a0a" stroke="#0a0a0a" stroke-width="0.3" transform="translate(267.1,743.6) scale(0.935,1.055)">10</text>
<text font-family="'Liberation Serif', serif" font-size="39.5" text-anchor="middle" fill="#0a0a0a" stroke="#0a0a0a" stroke-width="0.3" transform="translate(442.8,743.6) scale(0.935,1.055)">20</text>
<text font-family="'Liberation Serif', serif" font-size="39.5" text-anchor="middle" fill="#0a0a0a" stroke="#0a0a0a" stroke-width="0.3" transform="translate(618.5,743.6) scale(0.935,1.055)">30</text>
<text font-family="'Liberation Serif', serif" font-size="39.5" text-anchor="middle" fill="#0a0a0a" stroke="#0a0a0a" stroke-width="0.3" transform="translate(794.3,743.6) scale(0.935,1.055)">40</text>
<text font-family="'Liberation Serif', serif" font-size="39.5" text-anchor="middle" fill="#0a0a0a" stroke="#0a0a0a" stroke-width="0.3" transform="translate(970.0,743.6) scale(0.935,1.055)">50</text>
<text font-family="'Liberation Serif', serif" font-size="46.5" text-anchor="middle" fill="#0a0a0a" stroke="#0a0a0a" stroke-width="0.3" transform="translate(532.5,797.6) scale(0.975,1.0)">2θ, град</text>
<g transform="translate(48.2,483) rotate(-90)" font-family="'Liberation Serif', serif" fill="#0a0a0a" stroke="#0a0a0a" stroke-width="0.3">
<text font-size="47" font-style="italic" transform="translate(0.6,0) scale(1.08,1)">I</text>
<text font-size="47" transform="translate(20.6,0) scale(1.0,1)">,</text>
<text font-size="46.3" transform="translate(43.5,0) scale(0.877,1)">10</text>
<text font-size="27.8" transform="translate(86.2,-20) scale(0.82,1)">4</text>
<text font-size="47" transform="translate(107.2,0) scale(0.984,1)">отн. ед.</text>
</g>
<text font-family="'Liberation Serif', serif" font-size="38.5" text-anchor="start" fill="#1a4aa6" stroke="#1a4aa6" stroke-width="0.3" transform="translate(151.2,51.2) scale(0.95,1.01)">5.1</text>
<text font-family="'Liberation Serif', serif" font-size="25" text-anchor="middle" fill="#1a4aa6" stroke="#1a4aa6" stroke-width="0.3" transform="translate(203.1,40.9) scale(1.0,1.0)">°</text>
<text font-family="'Liberation Serif', serif" font-size="38.5" text-anchor="start" fill="#1a4aa6" stroke="#1a4aa6" stroke-width="0.3" transform="translate(297.2,280.8) scale(0.97,1.03)">14.0</text>
<text font-family="'Liberation Serif', serif" font-size="25" text-anchor="middle" fill="#1a4aa6" stroke="#1a4aa6" stroke-width="0.3" transform="translate(369.1,271.1) scale(1.0,1.0)">°</text>
<text font-family="'Liberation Serif', serif" font-size="46" text-anchor="middle" fill="#1a4aa6" stroke="#1a4aa6" stroke-width="0.3" font-style="italic" transform="translate(960.0,347.0) scale(1.04,1.0)">1</text>
<text font-family="'Liberation Serif', serif" font-size="45" text-anchor="middle" fill="#0a0a0a" stroke="#0a0a0a" stroke-width="0.3" font-style="italic" transform="translate(958.4,650.8) scale(1.02,1.06)">2</text>
<text font-family="'Liberation Serif', serif" font-size="32.2" text-anchor="middle" fill="#0a0a0a" transform="translate(404.4,381.6) scale(0.90,1)"><tspan font-size="28.6" dy="-1">(</tspan><tspan dx="1.6" dy="1">212</tspan><tspan font-size="28.6" dx="1.6" dy="-1">)</tspan></text>
<text font-family="'Liberation Serif', serif" font-size="32.2" text-anchor="middle" fill="#0a0a0a" transform="translate(438.0,409.5) scale(0.90,1)"><tspan font-size="28.6" dy="-1">(</tspan><tspan dx="1.6" dy="1">204</tspan><tspan font-size="28.6" dx="1.6" dy="-1">)</tspan></text>
<text font-family="'Liberation Serif', serif" font-size="32.2" text-anchor="middle" fill="#0a0a0a" transform="translate(569.6,512.4) scale(0.90,1)"><tspan font-size="28.6" dy="-1">(</tspan><tspan dx="1.6" dy="1">115</tspan><tspan font-size="28.6" dx="1.6" dy="-1">)</tspan></text>
<text font-family="'Liberation Serif', serif" font-size="32.2" text-anchor="middle" fill="#0a0a0a" transform="translate(235.9,528.5) scale(0.90,1)"><tspan font-size="28.6" dy="-1">(</tspan><tspan dx="1.6" dy="1">300</tspan><tspan font-size="28.6" dx="1.6" dy="-1">)</tspan></text>
<text font-family="'Liberation Serif', serif" font-size="32.2" text-anchor="middle" fill="#0a0a0a" transform="translate(340.8,546.7) scale(0.90,1)"><tspan font-size="28.6" dy="-1">(</tspan><tspan dx="1.6" dy="1">110</tspan><tspan font-size="28.6" dx="1.6" dy="-1">)</tspan></text>
<text font-family="'Liberation Serif', serif" font-size="32.2" text-anchor="middle" fill="#0a0a0a" transform="translate(187.2,579.6) scale(0.90,1)"><tspan font-size="28.6" dy="-1">(</tspan><tspan dx="1.6" dy="1">200</tspan><tspan font-size="28.6" dx="1.6" dy="-1">)</tspan></text>
</svg>
</body></html>
